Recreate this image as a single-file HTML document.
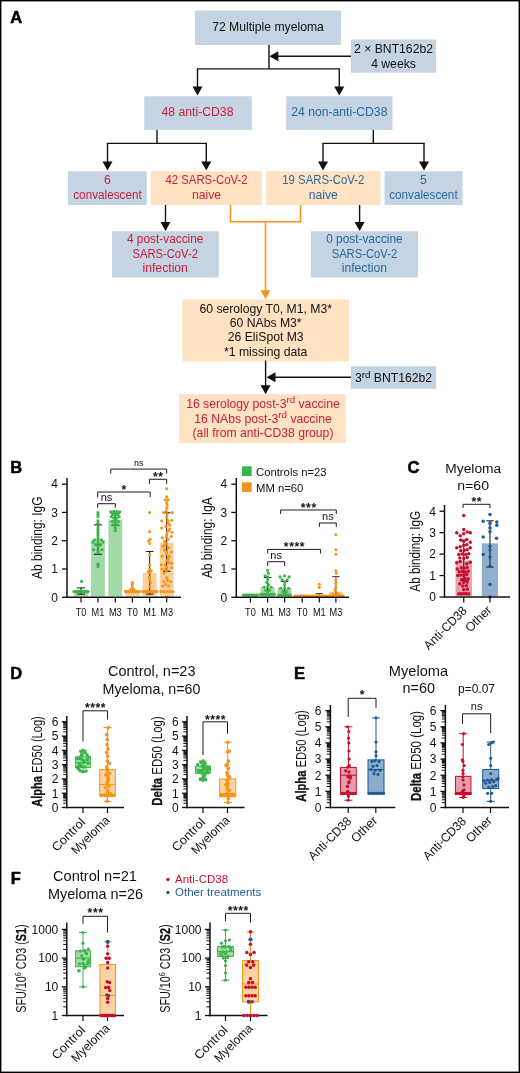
<!DOCTYPE html>
<html lang="en"><head><meta charset="utf-8"><title>Figure</title>
<style>
html,body{margin:0;padding:0;background:#fff;}
svg{display:block;font-family:"Liberation Sans",sans-serif;will-change:transform;}
</style></head><body>
<svg width="520" height="1073" viewBox="0 0 520 1073">
<rect x="0" y="0" width="520" height="1073" fill="#fff"/>
<rect x="195.00" y="10.50" width="146.00" height="34.50" fill="#c5d4e3" />
<text transform="translate(268.00,31.30)" font-size="12.2" fill="#111" text-anchor="middle" font-weight="normal" >72 Multiple myeloma</text>
<rect x="350.80" y="39.50" width="85.20" height="33.20" fill="#c5d4e3" />
<text transform="translate(393.50,52.70)" font-size="12.2" fill="#111" text-anchor="middle" font-weight="normal" >2 × BNT162b2</text>
<text transform="translate(393.50,67.70)" font-size="12.2" fill="#111" text-anchor="middle" font-weight="normal" >4 weeks</text>
<line x1="269.00" y1="45.00" x2="269.00" y2="68.90" stroke="#111" stroke-width="1.4" />
<line x1="196.80" y1="68.90" x2="339.95" y2="68.90" stroke="#111" stroke-width="1.4" />
<line x1="351.00" y1="56.30" x2="277.30" y2="56.30" stroke="#111" stroke-width="1.4" />
<polygon points="278.30,51.30 278.30,61.30 269.30,56.30" fill="#111"/>
<line x1="197.50" y1="68.90" x2="197.50" y2="87.60" stroke="#111" stroke-width="1.4" />
<polygon points="192.50,86.60 202.50,86.60 197.50,95.60" fill="#111"/>
<line x1="339.25" y1="68.90" x2="339.25" y2="87.60" stroke="#111" stroke-width="1.4" />
<polygon points="334.25,86.60 344.25,86.60 339.25,95.60" fill="#111"/>
<rect x="144.25" y="96.25" width="107.50" height="33.75" fill="#c5d4e3" />
<text transform="translate(197.50,116.40)" font-size="12.2" fill="#c8203f" text-anchor="middle" font-weight="normal" >48 anti-CD38</text>
<rect x="286.25" y="96.25" width="106.25" height="33.75" fill="#c5d4e3" />
<text transform="translate(339.30,116.40)" font-size="12.2" fill="#2b68a0" text-anchor="middle" font-weight="normal" >24 non-anti-CD38</text>
<line x1="157.00" y1="130.00" x2="157.00" y2="143.40" stroke="#111" stroke-width="1.4" />
<line x1="106.80" y1="143.40" x2="206.95" y2="143.40" stroke="#111" stroke-width="1.4" />
<line x1="107.50" y1="143.40" x2="107.50" y2="162.60" stroke="#111" stroke-width="1.4" />
<polygon points="102.50,161.60 112.50,161.60 107.50,170.60" fill="#111"/>
<line x1="206.25" y1="143.40" x2="206.25" y2="162.60" stroke="#111" stroke-width="1.4" />
<polygon points="201.25,161.60 211.25,161.60 206.25,170.60" fill="#111"/>
<rect x="68.00" y="171.25" width="78.80" height="33.75" fill="#c5d4e3" />
<text transform="translate(107.50,184.30)" font-size="12.2" fill="#c8203f" text-anchor="middle" font-weight="normal" >6</text>
<text transform="translate(107.50,198.80)" font-size="12.2" fill="#c8203f" text-anchor="middle" font-weight="normal"  textLength="68.5" lengthAdjust="spacingAndGlyphs">convalescent</text>
<rect x="150.80" y="171.25" width="110.95" height="33.75" fill="#fee2c1" />
<text transform="translate(206.50,184.30)" font-size="12.2" fill="#c8203f" text-anchor="middle" font-weight="normal"  textLength="82" lengthAdjust="spacingAndGlyphs">42 SARS-CoV-2</text>
<text transform="translate(206.50,198.80)" font-size="12.2" fill="#c8203f" text-anchor="middle" font-weight="normal" >naive</text>
<line x1="373.30" y1="130.00" x2="373.30" y2="143.40" stroke="#111" stroke-width="1.4" />
<line x1="322.30" y1="143.40" x2="424.70" y2="143.40" stroke="#111" stroke-width="1.4" />
<line x1="323.00" y1="143.40" x2="323.00" y2="162.60" stroke="#111" stroke-width="1.4" />
<polygon points="318.00,161.60 328.00,161.60 323.00,170.60" fill="#111"/>
<line x1="424.00" y1="143.40" x2="424.00" y2="162.60" stroke="#111" stroke-width="1.4" />
<polygon points="419.00,161.60 429.00,161.60 424.00,170.60" fill="#111"/>
<rect x="266.20" y="171.25" width="114.30" height="33.75" fill="#fee2c1" />
<text transform="translate(323.30,184.30)" font-size="12.2" fill="#2b68a0" text-anchor="middle" font-weight="normal"  textLength="82" lengthAdjust="spacingAndGlyphs">19 SARS-CoV-2</text>
<text transform="translate(323.30,198.80)" font-size="12.2" fill="#2b68a0" text-anchor="middle" font-weight="normal" >naive</text>
<rect x="384.50" y="171.25" width="78.00" height="33.75" fill="#c5d4e3" />
<text transform="translate(423.40,184.30)" font-size="12.2" fill="#2b68a0" text-anchor="middle" font-weight="normal" >5</text>
<text transform="translate(423.40,198.80)" font-size="12.2" fill="#2b68a0" text-anchor="middle" font-weight="normal"  textLength="68.5" lengthAdjust="spacingAndGlyphs">convalescent</text>
<line x1="165.50" y1="205.00" x2="165.50" y2="223.00" stroke="#111" stroke-width="1.4" />
<polygon points="160.50,222.00 170.50,222.00 165.50,231.00" fill="#111"/>
<rect x="112.00" y="231.25" width="106.80" height="46.25" fill="#c5d4e3" />
<text transform="translate(165.20,243.00)" font-size="12.2" fill="#c8203f" text-anchor="middle" font-weight="normal"  textLength="76.5" lengthAdjust="spacingAndGlyphs">4 post-vaccine</text>
<text transform="translate(165.20,257.50)" font-size="12.2" fill="#c8203f" text-anchor="middle" font-weight="normal"  textLength="65.5" lengthAdjust="spacingAndGlyphs">SARS-CoV-2</text>
<text transform="translate(165.20,271.80)" font-size="12.2" fill="#c8203f" text-anchor="middle" font-weight="normal" >infection</text>
<line x1="359.60" y1="205.00" x2="359.60" y2="223.00" stroke="#111" stroke-width="1.4" />
<polygon points="354.60,222.00 364.60,222.00 359.60,231.00" fill="#111"/>
<rect x="310.80" y="231.25" width="107.20" height="46.25" fill="#c5d4e3" />
<text transform="translate(364.40,243.00)" font-size="12.2" fill="#2b68a0" text-anchor="middle" font-weight="normal"  textLength="76.5" lengthAdjust="spacingAndGlyphs">0 post-vaccine</text>
<text transform="translate(364.40,257.50)" font-size="12.2" fill="#2b68a0" text-anchor="middle" font-weight="normal"  textLength="65.5" lengthAdjust="spacingAndGlyphs">SARS-CoV-2</text>
<text transform="translate(364.40,271.80)" font-size="12.2" fill="#2b68a0" text-anchor="middle" font-weight="normal" >infection</text>
<polyline points="230.50,205.00 230.50,221.70 300.50,221.70 300.50,205.00" fill="none" stroke="#f7941d" stroke-width="1.6" />
<line x1="265.50" y1="221.70" x2="265.50" y2="291.20" stroke="#f7941d" stroke-width="1.6" />
<polygon points="260.50,290.20 270.50,290.20 265.50,299.20" fill="#f7941d"/>
<rect x="182.50" y="299.50" width="166.50" height="61.80" fill="#fee2c1" />
<text transform="translate(265.70,312.60)" font-size="12.2" fill="#111" text-anchor="middle" font-weight="normal" >60 serology T0, M1, M3*</text>
<text transform="translate(265.70,326.90)" font-size="12.2" fill="#111" text-anchor="middle" font-weight="normal" >60 NAbs M3*</text>
<text transform="translate(265.70,341.20)" font-size="12.2" fill="#111" text-anchor="middle" font-weight="normal" >26 EliSpot M3</text>
<text transform="translate(265.70,355.50)" font-size="12.2" fill="#111" text-anchor="middle" font-weight="normal" >*1 missing data</text>
<line x1="265.60" y1="360.50" x2="265.60" y2="386.20" stroke="#111" stroke-width="1.4" />
<polygon points="260.60,385.20 270.60,385.20 265.60,394.20" fill="#111"/>
<rect x="350.80" y="366.20" width="85.40" height="22.60" fill="#c5d4e3" />
<text transform="translate(393.5,382.3)" font-size="12.2" fill="#111" text-anchor="middle">3<tspan font-size="9.8" dy="-4.6">rd</tspan><tspan dy="4.6"> BNT162b2</tspan></text>
<line x1="351.00" y1="377.20" x2="274.50" y2="377.20" stroke="#111" stroke-width="1.4" />
<polygon points="275.50,372.20 275.50,382.20 266.50,377.20" fill="#111"/>
<rect x="179.25" y="394.25" width="166.55" height="48.75" fill="#fee2c1" />
<text transform="translate(263,408)" font-size="12.2" fill="#c8203f" text-anchor="middle">16 serology post-3<tspan font-size="9.8" dy="-4.6">rd</tspan><tspan dy="4.6"> vaccine</tspan></text>
<text transform="translate(263,422.5)" font-size="12.2" fill="#c8203f" text-anchor="middle">16 NAbs post-3<tspan font-size="9.8" dy="-4.6">rd</tspan><tspan dy="4.6"> vaccine</tspan></text>
<text transform="translate(263.00,437.00)" font-size="12.2" fill="#c8203f" text-anchor="middle" font-weight="normal" >(all from anti-CD38 group)</text>
<text transform="translate(10.30,23.00)" font-size="16.5" fill="#000" text-anchor="start" font-weight="bold" stroke="#000" stroke-width="0.5">A</text>
<text transform="translate(10.30,473.00)" font-size="16.5" fill="#000" text-anchor="start" font-weight="bold" stroke="#000" stroke-width="0.5">B</text>
<text transform="translate(407.50,473.00)" font-size="16.5" fill="#000" text-anchor="start" font-weight="bold" stroke="#000" stroke-width="0.5">C</text>
<text transform="translate(10.30,679.00)" font-size="16.5" fill="#000" text-anchor="start" font-weight="bold" stroke="#000" stroke-width="0.5">D</text>
<text transform="translate(294.00,679.00)" font-size="16.5" fill="#000" text-anchor="start" font-weight="bold" stroke="#000" stroke-width="0.5">E</text>
<text transform="translate(10.80,884.30)" font-size="16.5" fill="#000" text-anchor="start" font-weight="bold" stroke="#000" stroke-width="0.5">F</text>
<line x1="67.00" y1="478.00" x2="67.00" y2="598.00" stroke="#111" stroke-width="1.5" />
<line x1="62.00" y1="597.25" x2="67.00" y2="597.25" stroke="#111" stroke-width="1.3" />
<text transform="translate(58.00,601.55)" font-size="12" fill="#111" text-anchor="end" font-weight="normal" >0</text>
<line x1="62.00" y1="568.98" x2="67.00" y2="568.98" stroke="#111" stroke-width="1.3" />
<text transform="translate(58.00,573.28)" font-size="12" fill="#111" text-anchor="end" font-weight="normal" >1</text>
<line x1="62.00" y1="540.71" x2="67.00" y2="540.71" stroke="#111" stroke-width="1.3" />
<text transform="translate(58.00,545.01)" font-size="12" fill="#111" text-anchor="end" font-weight="normal" >2</text>
<line x1="62.00" y1="512.44" x2="67.00" y2="512.44" stroke="#111" stroke-width="1.3" />
<text transform="translate(58.00,516.74)" font-size="12" fill="#111" text-anchor="end" font-weight="normal" >3</text>
<line x1="62.00" y1="484.17" x2="67.00" y2="484.17" stroke="#111" stroke-width="1.3" />
<text transform="translate(58.00,488.47)" font-size="12" fill="#111" text-anchor="end" font-weight="normal" >4</text>
<text transform="translate(42.00,537.70) rotate(-90)" font-size="14" fill="#111" text-anchor="middle" textLength="82.5" lengthAdjust="spacingAndGlyphs">Ab binding: IgG</text>
<rect x="74.10" y="591.60" width="13.80" height="4.95" fill="#a1d9a7" />
<rect x="91.10" y="539.86" width="13.80" height="56.69" fill="#a1d9a7" />
<rect x="108.40" y="519.51" width="13.80" height="77.04" fill="#a1d9a7" />
<rect x="125.50" y="591.60" width="13.80" height="4.95" fill="#fbcf9b" />
<rect x="142.80" y="572.94" width="13.80" height="23.61" fill="#fbcf9b" />
<rect x="159.80" y="542.69" width="13.80" height="53.86" fill="#fbcf9b" />
<line x1="81.00" y1="597.25" x2="81.00" y2="602.50" stroke="#111" stroke-width="1.2" />
<text transform="translate(81.00,616.00) scale(0.8,1)" font-size="11.5" fill="#111" text-anchor="middle" font-weight="normal" >T0</text>
<line x1="98.00" y1="597.25" x2="98.00" y2="602.50" stroke="#111" stroke-width="1.2" />
<text transform="translate(98.00,616.00) scale(0.8,1)" font-size="11.5" fill="#111" text-anchor="middle" font-weight="normal" >M1</text>
<line x1="115.30" y1="597.25" x2="115.30" y2="602.50" stroke="#111" stroke-width="1.2" />
<text transform="translate(115.30,616.00) scale(0.8,1)" font-size="11.5" fill="#111" text-anchor="middle" font-weight="normal" >M3</text>
<line x1="132.40" y1="597.25" x2="132.40" y2="602.50" stroke="#111" stroke-width="1.2" />
<text transform="translate(132.40,616.00) scale(0.8,1)" font-size="11.5" fill="#111" text-anchor="middle" font-weight="normal" >T0</text>
<line x1="149.70" y1="597.25" x2="149.70" y2="602.50" stroke="#111" stroke-width="1.2" />
<text transform="translate(149.70,616.00) scale(0.8,1)" font-size="11.5" fill="#111" text-anchor="middle" font-weight="normal" >M1</text>
<line x1="166.70" y1="597.25" x2="166.70" y2="602.50" stroke="#111" stroke-width="1.2" />
<text transform="translate(166.70,616.00) scale(0.8,1)" font-size="11.5" fill="#111" text-anchor="middle" font-weight="normal" >M3</text>
<line x1="81.00" y1="594.14" x2="81.00" y2="587.92" stroke="#111" stroke-width="1.0" />
<line x1="77.00" y1="594.14" x2="85.00" y2="594.14" stroke="#111" stroke-width="1.0" />
<line x1="77.00" y1="587.92" x2="85.00" y2="587.92" stroke="#111" stroke-width="1.0" />
<line x1="98.00" y1="554.28" x2="98.00" y2="524.88" stroke="#111" stroke-width="1.0" />
<line x1="94.00" y1="554.28" x2="102.00" y2="554.28" stroke="#111" stroke-width="1.0" />
<line x1="94.00" y1="524.88" x2="102.00" y2="524.88" stroke="#111" stroke-width="1.0" />
<line x1="115.30" y1="525.16" x2="115.30" y2="513.57" stroke="#111" stroke-width="1.0" />
<line x1="111.30" y1="525.16" x2="119.30" y2="525.16" stroke="#111" stroke-width="1.0" />
<line x1="111.30" y1="513.57" x2="119.30" y2="513.57" stroke="#111" stroke-width="1.0" />
<line x1="149.70" y1="594.14" x2="149.70" y2="551.45" stroke="#111" stroke-width="1.0" />
<line x1="145.95" y1="594.14" x2="153.45" y2="594.14" stroke="#111" stroke-width="1.0" />
<line x1="145.95" y1="551.45" x2="153.45" y2="551.45" stroke="#111" stroke-width="1.0" />
<line x1="166.70" y1="571.24" x2="166.70" y2="512.72" stroke="#111" stroke-width="1.0" />
<line x1="162.95" y1="571.24" x2="170.45" y2="571.24" stroke="#111" stroke-width="1.0" />
<line x1="162.95" y1="512.72" x2="170.45" y2="512.72" stroke="#111" stroke-width="1.0" />
<line x1="128.40" y1="591.60" x2="136.40" y2="591.60" stroke="#222" stroke-width="0.9" />
<circle cx="74.00" cy="591.60" r="1.55" fill="#3bb54a"/>
<circle cx="75.08" cy="591.60" r="1.55" fill="#3bb54a"/>
<circle cx="76.15" cy="591.60" r="1.55" fill="#3bb54a"/>
<circle cx="77.23" cy="591.60" r="1.55" fill="#3bb54a"/>
<circle cx="78.31" cy="591.60" r="1.55" fill="#3bb54a"/>
<circle cx="79.38" cy="591.60" r="1.55" fill="#3bb54a"/>
<circle cx="80.46" cy="591.60" r="1.55" fill="#3bb54a"/>
<circle cx="81.54" cy="591.60" r="1.55" fill="#3bb54a"/>
<circle cx="82.62" cy="591.60" r="1.55" fill="#3bb54a"/>
<circle cx="83.69" cy="591.60" r="1.55" fill="#3bb54a"/>
<circle cx="84.77" cy="591.60" r="1.55" fill="#3bb54a"/>
<circle cx="85.85" cy="591.60" r="1.55" fill="#3bb54a"/>
<circle cx="86.92" cy="591.60" r="1.55" fill="#3bb54a"/>
<circle cx="88.00" cy="591.60" r="1.55" fill="#3bb54a"/>
<circle cx="81.50" cy="581.42" r="1.55" fill="#3bb54a"/>
<circle cx="98.00" cy="512.44" r="1.55" fill="#3bb54a"/>
<circle cx="98.00" cy="514.42" r="1.55" fill="#3bb54a"/>
<circle cx="98.00" cy="516.40" r="1.55" fill="#3bb54a"/>
<circle cx="98.00" cy="520.92" r="1.55" fill="#3bb54a"/>
<circle cx="98.00" cy="523.18" r="1.55" fill="#3bb54a"/>
<circle cx="98.00" cy="527.42" r="1.55" fill="#3bb54a"/>
<circle cx="98.00" cy="529.40" r="1.55" fill="#3bb54a"/>
<circle cx="98.00" cy="531.38" r="1.55" fill="#3bb54a"/>
<circle cx="98.00" cy="533.36" r="1.55" fill="#3bb54a"/>
<circle cx="98.00" cy="535.62" r="1.55" fill="#3bb54a"/>
<circle cx="98.00" cy="537.88" r="1.55" fill="#3bb54a"/>
<circle cx="98.00" cy="539.86" r="1.55" fill="#3bb54a"/>
<circle cx="94.50" cy="539.86" r="1.55" fill="#3bb54a"/>
<circle cx="101.50" cy="539.86" r="1.55" fill="#3bb54a"/>
<circle cx="98.00" cy="542.69" r="1.55" fill="#3bb54a"/>
<circle cx="93.00" cy="542.12" r="1.55" fill="#3bb54a"/>
<circle cx="103.00" cy="542.12" r="1.55" fill="#3bb54a"/>
<circle cx="95.50" cy="544.67" r="1.55" fill="#3bb54a"/>
<circle cx="100.50" cy="544.67" r="1.55" fill="#3bb54a"/>
<circle cx="98.00" cy="546.36" r="1.55" fill="#3bb54a"/>
<circle cx="93.50" cy="549.76" r="1.55" fill="#3bb54a"/>
<circle cx="98.00" cy="550.32" r="1.55" fill="#3bb54a"/>
<circle cx="102.00" cy="549.76" r="1.55" fill="#3bb54a"/>
<circle cx="98.00" cy="552.58" r="1.55" fill="#3bb54a"/>
<circle cx="98.00" cy="564.17" r="1.55" fill="#3bb54a"/>
<circle cx="98.00" cy="566.44" r="1.55" fill="#3bb54a"/>
<circle cx="115.30" cy="530.82" r="1.55" fill="#3bb54a"/>
<circle cx="115.30" cy="527.99" r="1.55" fill="#3bb54a"/>
<circle cx="113.80" cy="525.16" r="1.55" fill="#3bb54a"/>
<circle cx="116.80" cy="525.16" r="1.55" fill="#3bb54a"/>
<circle cx="115.30" cy="523.18" r="1.55" fill="#3bb54a"/>
<circle cx="112.30" cy="521.49" r="1.55" fill="#3bb54a"/>
<circle cx="118.30" cy="521.49" r="1.55" fill="#3bb54a"/>
<circle cx="115.30" cy="520.36" r="1.55" fill="#3bb54a"/>
<circle cx="113.80" cy="518.09" r="1.55" fill="#3bb54a"/>
<circle cx="116.80" cy="518.09" r="1.55" fill="#3bb54a"/>
<circle cx="111.30" cy="516.68" r="1.55" fill="#3bb54a"/>
<circle cx="119.30" cy="516.68" r="1.55" fill="#3bb54a"/>
<circle cx="115.30" cy="515.83" r="1.55" fill="#3bb54a"/>
<circle cx="112.80" cy="514.42" r="1.55" fill="#3bb54a"/>
<circle cx="117.80" cy="514.42" r="1.55" fill="#3bb54a"/>
<circle cx="115.30" cy="513.01" r="1.55" fill="#3bb54a"/>
<circle cx="110.80" cy="511.87" r="1.55" fill="#3bb54a"/>
<circle cx="113.80" cy="511.31" r="1.55" fill="#3bb54a"/>
<circle cx="116.80" cy="511.31" r="1.55" fill="#3bb54a"/>
<circle cx="119.80" cy="511.87" r="1.55" fill="#3bb54a"/>
<circle cx="112.30" cy="513.29" r="1.55" fill="#3bb54a"/>
<circle cx="118.30" cy="513.29" r="1.55" fill="#3bb54a"/>
<circle cx="125.40" cy="591.60" r="1.55" fill="#f7941d"/>
<circle cx="126.40" cy="591.60" r="1.55" fill="#f7941d"/>
<circle cx="127.40" cy="591.60" r="1.55" fill="#f7941d"/>
<circle cx="128.40" cy="591.60" r="1.55" fill="#f7941d"/>
<circle cx="129.40" cy="591.60" r="1.55" fill="#f7941d"/>
<circle cx="130.40" cy="591.60" r="1.55" fill="#f7941d"/>
<circle cx="131.40" cy="591.60" r="1.55" fill="#f7941d"/>
<circle cx="132.40" cy="591.60" r="1.55" fill="#f7941d"/>
<circle cx="133.40" cy="591.60" r="1.55" fill="#f7941d"/>
<circle cx="134.40" cy="591.60" r="1.55" fill="#f7941d"/>
<circle cx="135.40" cy="591.60" r="1.55" fill="#f7941d"/>
<circle cx="136.40" cy="591.60" r="1.55" fill="#f7941d"/>
<circle cx="137.40" cy="591.60" r="1.55" fill="#f7941d"/>
<circle cx="138.40" cy="591.60" r="1.55" fill="#f7941d"/>
<circle cx="139.40" cy="591.60" r="1.55" fill="#f7941d"/>
<circle cx="132.40" cy="588.77" r="1.55" fill="#f7941d"/>
<circle cx="130.90" cy="589.33" r="1.55" fill="#f7941d"/>
<circle cx="133.90" cy="589.33" r="1.55" fill="#f7941d"/>
<circle cx="132.40" cy="586.51" r="1.55" fill="#f7941d"/>
<circle cx="132.40" cy="584.53" r="1.55" fill="#f7941d"/>
<circle cx="132.40" cy="582.55" r="1.55" fill="#f7941d"/>
<circle cx="142.70" cy="591.60" r="1.55" fill="#f7941d"/>
<circle cx="143.70" cy="591.60" r="1.55" fill="#f7941d"/>
<circle cx="144.70" cy="591.60" r="1.55" fill="#f7941d"/>
<circle cx="145.70" cy="591.60" r="1.55" fill="#f7941d"/>
<circle cx="146.70" cy="591.60" r="1.55" fill="#f7941d"/>
<circle cx="147.70" cy="591.60" r="1.55" fill="#f7941d"/>
<circle cx="148.70" cy="591.60" r="1.55" fill="#f7941d"/>
<circle cx="149.70" cy="591.60" r="1.55" fill="#f7941d"/>
<circle cx="150.70" cy="591.60" r="1.55" fill="#f7941d"/>
<circle cx="151.70" cy="591.60" r="1.55" fill="#f7941d"/>
<circle cx="152.70" cy="591.60" r="1.55" fill="#f7941d"/>
<circle cx="153.70" cy="591.60" r="1.55" fill="#f7941d"/>
<circle cx="154.70" cy="591.60" r="1.55" fill="#f7941d"/>
<circle cx="155.70" cy="591.60" r="1.55" fill="#f7941d"/>
<circle cx="156.70" cy="591.60" r="1.55" fill="#f7941d"/>
<circle cx="149.70" cy="586.51" r="1.55" fill="#f7941d"/>
<circle cx="150.70" cy="582.55" r="1.55" fill="#f7941d"/>
<circle cx="149.70" cy="579.72" r="1.55" fill="#f7941d"/>
<circle cx="149.20" cy="577.46" r="1.55" fill="#f7941d"/>
<circle cx="149.70" cy="573.22" r="1.55" fill="#f7941d"/>
<circle cx="148.20" cy="571.81" r="1.55" fill="#f7941d"/>
<circle cx="151.20" cy="570.96" r="1.55" fill="#f7941d"/>
<circle cx="149.70" cy="568.98" r="1.55" fill="#f7941d"/>
<circle cx="149.70" cy="565.02" r="1.55" fill="#f7941d"/>
<circle cx="149.70" cy="554.85" r="1.55" fill="#f7941d"/>
<circle cx="149.70" cy="543.54" r="1.55" fill="#f7941d"/>
<circle cx="148.70" cy="540.71" r="1.55" fill="#f7941d"/>
<circle cx="150.20" cy="539.30" r="1.55" fill="#f7941d"/>
<circle cx="149.70" cy="531.66" r="1.55" fill="#f7941d"/>
<circle cx="149.70" cy="512.44" r="1.55" fill="#f7941d"/>
<circle cx="166.70" cy="596.97" r="1.55" fill="#f7941d"/>
<circle cx="160.70" cy="591.60" r="1.55" fill="#f7941d"/>
<circle cx="163.70" cy="591.60" r="1.55" fill="#f7941d"/>
<circle cx="166.70" cy="591.60" r="1.55" fill="#f7941d"/>
<circle cx="169.70" cy="591.60" r="1.55" fill="#f7941d"/>
<circle cx="172.70" cy="591.60" r="1.55" fill="#f7941d"/>
<circle cx="162.70" cy="585.94" r="1.55" fill="#f7941d"/>
<circle cx="165.70" cy="584.53" r="1.55" fill="#f7941d"/>
<circle cx="168.70" cy="585.94" r="1.55" fill="#f7941d"/>
<circle cx="163.70" cy="581.70" r="1.55" fill="#f7941d"/>
<circle cx="167.70" cy="580.29" r="1.55" fill="#f7941d"/>
<circle cx="170.70" cy="581.70" r="1.55" fill="#f7941d"/>
<circle cx="166.70" cy="577.46" r="1.55" fill="#f7941d"/>
<circle cx="163.95" cy="573.22" r="1.55" fill="#f7941d"/>
<circle cx="166.28" cy="571.10" r="1.55" fill="#f7941d"/>
<circle cx="165.08" cy="568.98" r="1.55" fill="#f7941d"/>
<circle cx="166.35" cy="566.86" r="1.55" fill="#f7941d"/>
<circle cx="165.14" cy="564.74" r="1.55" fill="#f7941d"/>
<circle cx="169.01" cy="562.62" r="1.55" fill="#f7941d"/>
<circle cx="167.09" cy="560.50" r="1.55" fill="#f7941d"/>
<circle cx="168.26" cy="558.38" r="1.55" fill="#f7941d"/>
<circle cx="169.43" cy="556.26" r="1.55" fill="#f7941d"/>
<circle cx="166.67" cy="554.14" r="1.55" fill="#f7941d"/>
<circle cx="166.50" cy="552.02" r="1.55" fill="#f7941d"/>
<circle cx="164.32" cy="549.90" r="1.55" fill="#f7941d"/>
<circle cx="168.52" cy="547.78" r="1.55" fill="#f7941d"/>
<circle cx="163.94" cy="545.66" r="1.55" fill="#f7941d"/>
<circle cx="165.83" cy="543.54" r="1.55" fill="#f7941d"/>
<circle cx="164.57" cy="541.42" r="1.55" fill="#f7941d"/>
<circle cx="168.16" cy="539.30" r="1.55" fill="#f7941d"/>
<circle cx="166.43" cy="537.18" r="1.55" fill="#f7941d"/>
<circle cx="166.73" cy="535.06" r="1.55" fill="#f7941d"/>
<circle cx="166.88" cy="532.94" r="1.55" fill="#f7941d"/>
<circle cx="168.89" cy="530.82" r="1.55" fill="#f7941d"/>
<circle cx="169.77" cy="528.70" r="1.55" fill="#f7941d"/>
<circle cx="165.87" cy="526.58" r="1.55" fill="#f7941d"/>
<circle cx="169.13" cy="524.45" r="1.55" fill="#f7941d"/>
<circle cx="168.04" cy="522.33" r="1.55" fill="#f7941d"/>
<circle cx="167.96" cy="520.21" r="1.55" fill="#f7941d"/>
<circle cx="161.70" cy="568.98" r="1.55" fill="#f7941d"/>
<circle cx="171.70" cy="567.57" r="1.55" fill="#f7941d"/>
<circle cx="161.20" cy="564.74" r="1.55" fill="#f7941d"/>
<circle cx="171.70" cy="563.33" r="1.55" fill="#f7941d"/>
<circle cx="162.20" cy="556.26" r="1.55" fill="#f7941d"/>
<circle cx="171.30" cy="552.02" r="1.55" fill="#f7941d"/>
<circle cx="162.20" cy="537.88" r="1.55" fill="#f7941d"/>
<circle cx="171.20" cy="536.47" r="1.55" fill="#f7941d"/>
<circle cx="172.20" cy="532.23" r="1.55" fill="#f7941d"/>
<circle cx="161.70" cy="527.99" r="1.55" fill="#f7941d"/>
<circle cx="161.70" cy="520.92" r="1.55" fill="#f7941d"/>
<circle cx="171.70" cy="520.36" r="1.55" fill="#f7941d"/>
<circle cx="172.20" cy="512.44" r="1.55" fill="#f7941d"/>
<circle cx="163.70" cy="512.44" r="1.55" fill="#f7941d"/>
<circle cx="169.70" cy="525.16" r="1.55" fill="#f7941d"/>
<circle cx="163.20" cy="546.36" r="1.55" fill="#f7941d"/>
<circle cx="166.70" cy="516.68" r="1.55" fill="#f7941d"/>
<circle cx="167.20" cy="513.85" r="1.55" fill="#f7941d"/>
<circle cx="166.20" cy="511.03" r="1.55" fill="#f7941d"/>
<circle cx="166.70" cy="508.20" r="1.55" fill="#f7941d"/>
<circle cx="167.20" cy="505.37" r="1.55" fill="#f7941d"/>
<circle cx="166.70" cy="502.55" r="1.55" fill="#f7941d"/>
<circle cx="165.20" cy="499.72" r="1.55" fill="#f7941d"/>
<circle cx="168.20" cy="499.72" r="1.55" fill="#f7941d"/>
<circle cx="166.70" cy="496.89" r="1.55" fill="#f7941d"/>
<circle cx="166.70" cy="488.69" r="1.55" fill="#f7941d"/>
<polyline points="97.70,507.70 97.70,503.70 115.30,503.70 115.30,507.70" fill="none" stroke="#111" stroke-width="0.95" />
<text transform="translate(106.50,500.80)" font-size="11" fill="#111" text-anchor="middle" font-weight="normal" >ns</text>
<polyline points="97.70,497.30 97.70,492.00 150.20,492.00 150.20,497.00" fill="none" stroke="#111" stroke-width="0.95" />
<text transform="translate(124.25,494.01)" font-size="12.2" fill="#111" text-anchor="middle" font-weight="bold" letter-spacing="0.55">*</text>
<polyline points="110.80,473.70 110.80,469.10 166.70,469.10 166.70,473.70" fill="none" stroke="#111" stroke-width="0.95" />
<text transform="translate(138.75,466.30)" font-size="9" fill="#111" text-anchor="middle" font-weight="normal" >ns</text>
<polyline points="149.40,483.90 149.40,479.30 166.70,479.30 166.70,483.90" fill="none" stroke="#111" stroke-width="0.95" />
<text transform="translate(158.35,481.31)" font-size="12.2" fill="#111" text-anchor="middle" font-weight="bold" letter-spacing="0.55">**</text>
<line x1="236.30" y1="478.00" x2="236.30" y2="598.00" stroke="#111" stroke-width="1.5" />
<line x1="231.30" y1="597.25" x2="236.30" y2="597.25" stroke="#111" stroke-width="1.3" />
<text transform="translate(227.30,601.55)" font-size="12" fill="#111" text-anchor="end" font-weight="normal" >0</text>
<line x1="231.30" y1="568.98" x2="236.30" y2="568.98" stroke="#111" stroke-width="1.3" />
<text transform="translate(227.30,573.28)" font-size="12" fill="#111" text-anchor="end" font-weight="normal" >1</text>
<line x1="231.30" y1="540.71" x2="236.30" y2="540.71" stroke="#111" stroke-width="1.3" />
<text transform="translate(227.30,545.01)" font-size="12" fill="#111" text-anchor="end" font-weight="normal" >2</text>
<line x1="231.30" y1="512.44" x2="236.30" y2="512.44" stroke="#111" stroke-width="1.3" />
<text transform="translate(227.30,516.74)" font-size="12" fill="#111" text-anchor="end" font-weight="normal" >3</text>
<line x1="231.30" y1="484.17" x2="236.30" y2="484.17" stroke="#111" stroke-width="1.3" />
<text transform="translate(227.30,488.47)" font-size="12" fill="#111" text-anchor="end" font-weight="normal" >4</text>
<text transform="translate(211.50,537.70) rotate(-90)" font-size="14" fill="#111" text-anchor="middle" textLength="80.8" lengthAdjust="spacingAndGlyphs">Ab binding: IgA</text>
<rect x="243.50" y="594.42" width="13.80" height="2.13" fill="#a1d9a7" />
<rect x="260.70" y="587.07" width="13.80" height="9.48" fill="#a1d9a7" />
<rect x="277.70" y="587.92" width="13.80" height="8.63" fill="#a1d9a7" />
<rect x="312.40" y="596.12" width="13.80" height="0.43" fill="#fbcf9b" />
<rect x="329.00" y="591.60" width="13.80" height="4.95" fill="#fbcf9b" />
<line x1="250.40" y1="597.25" x2="250.40" y2="602.50" stroke="#111" stroke-width="1.2" />
<text transform="translate(250.40,616.00) scale(0.8,1)" font-size="11.5" fill="#111" text-anchor="middle" font-weight="normal" >T0</text>
<line x1="267.60" y1="597.25" x2="267.60" y2="602.50" stroke="#111" stroke-width="1.2" />
<text transform="translate(267.60,616.00) scale(0.8,1)" font-size="11.5" fill="#111" text-anchor="middle" font-weight="normal" >M1</text>
<line x1="284.60" y1="597.25" x2="284.60" y2="602.50" stroke="#111" stroke-width="1.2" />
<text transform="translate(284.60,616.00) scale(0.8,1)" font-size="11.5" fill="#111" text-anchor="middle" font-weight="normal" >M3</text>
<line x1="302.20" y1="597.25" x2="302.20" y2="602.50" stroke="#111" stroke-width="1.2" />
<text transform="translate(302.20,616.00) scale(0.8,1)" font-size="11.5" fill="#111" text-anchor="middle" font-weight="normal" >T0</text>
<line x1="319.30" y1="597.25" x2="319.30" y2="602.50" stroke="#111" stroke-width="1.2" />
<text transform="translate(319.30,616.00) scale(0.8,1)" font-size="11.5" fill="#111" text-anchor="middle" font-weight="normal" >M1</text>
<line x1="335.90" y1="597.25" x2="335.90" y2="602.50" stroke="#111" stroke-width="1.2" />
<text transform="translate(335.90,616.00) scale(0.8,1)" font-size="11.5" fill="#111" text-anchor="middle" font-weight="normal" >M3</text>
<line x1="267.60" y1="594.42" x2="267.60" y2="577.46" stroke="#111" stroke-width="1.0" />
<line x1="263.85" y1="594.42" x2="271.35" y2="594.42" stroke="#111" stroke-width="1.0" />
<line x1="263.85" y1="577.46" x2="271.35" y2="577.46" stroke="#111" stroke-width="1.0" />
<line x1="284.60" y1="594.42" x2="284.60" y2="581.42" stroke="#111" stroke-width="1.0" />
<line x1="280.85" y1="594.42" x2="288.35" y2="594.42" stroke="#111" stroke-width="1.0" />
<line x1="280.85" y1="581.42" x2="288.35" y2="581.42" stroke="#111" stroke-width="1.0" />
<line x1="319.30" y1="597.25" x2="319.30" y2="593.57" stroke="#222" stroke-width="0.9" />
<line x1="315.60" y1="593.57" x2="323.00" y2="593.57" stroke="#222" stroke-width="0.9" />
<line x1="335.90" y1="597.25" x2="335.90" y2="576.61" stroke="#222" stroke-width="0.9" />
<line x1="332.20" y1="576.61" x2="339.60" y2="576.61" stroke="#222" stroke-width="0.9" />
<circle cx="243.40" cy="594.99" r="1.55" fill="#3bb54a"/>
<circle cx="244.67" cy="594.99" r="1.55" fill="#3bb54a"/>
<circle cx="245.95" cy="594.99" r="1.55" fill="#3bb54a"/>
<circle cx="247.22" cy="594.99" r="1.55" fill="#3bb54a"/>
<circle cx="248.49" cy="594.99" r="1.55" fill="#3bb54a"/>
<circle cx="249.76" cy="594.99" r="1.55" fill="#3bb54a"/>
<circle cx="251.04" cy="594.99" r="1.55" fill="#3bb54a"/>
<circle cx="252.31" cy="594.99" r="1.55" fill="#3bb54a"/>
<circle cx="253.58" cy="594.99" r="1.55" fill="#3bb54a"/>
<circle cx="254.85" cy="594.99" r="1.55" fill="#3bb54a"/>
<circle cx="256.13" cy="594.99" r="1.55" fill="#3bb54a"/>
<circle cx="257.40" cy="594.99" r="1.55" fill="#3bb54a"/>
<circle cx="260.60" cy="594.42" r="1.55" fill="#3bb54a"/>
<circle cx="262.35" cy="594.42" r="1.55" fill="#3bb54a"/>
<circle cx="264.10" cy="594.42" r="1.55" fill="#3bb54a"/>
<circle cx="265.85" cy="594.42" r="1.55" fill="#3bb54a"/>
<circle cx="267.60" cy="594.42" r="1.55" fill="#3bb54a"/>
<circle cx="269.35" cy="594.42" r="1.55" fill="#3bb54a"/>
<circle cx="271.10" cy="594.42" r="1.55" fill="#3bb54a"/>
<circle cx="272.85" cy="594.42" r="1.55" fill="#3bb54a"/>
<circle cx="274.60" cy="594.42" r="1.55" fill="#3bb54a"/>
<circle cx="267.60" cy="570.39" r="1.55" fill="#3bb54a"/>
<circle cx="268.40" cy="573.22" r="1.55" fill="#3bb54a"/>
<circle cx="265.10" cy="575.76" r="1.55" fill="#3bb54a"/>
<circle cx="267.60" cy="576.90" r="1.55" fill="#3bb54a"/>
<circle cx="267.60" cy="579.72" r="1.55" fill="#3bb54a"/>
<circle cx="266.80" cy="582.55" r="1.55" fill="#3bb54a"/>
<circle cx="268.60" cy="584.53" r="1.55" fill="#3bb54a"/>
<circle cx="264.10" cy="587.07" r="1.55" fill="#3bb54a"/>
<circle cx="267.60" cy="587.07" r="1.55" fill="#3bb54a"/>
<circle cx="271.10" cy="587.07" r="1.55" fill="#3bb54a"/>
<circle cx="265.60" cy="590.18" r="1.55" fill="#3bb54a"/>
<circle cx="269.60" cy="590.18" r="1.55" fill="#3bb54a"/>
<circle cx="267.60" cy="591.60" r="1.55" fill="#3bb54a"/>
<circle cx="278.60" cy="594.99" r="1.55" fill="#3bb54a"/>
<circle cx="280.60" cy="594.99" r="1.55" fill="#3bb54a"/>
<circle cx="282.60" cy="594.99" r="1.55" fill="#3bb54a"/>
<circle cx="284.60" cy="594.99" r="1.55" fill="#3bb54a"/>
<circle cx="286.60" cy="594.99" r="1.55" fill="#3bb54a"/>
<circle cx="288.60" cy="594.99" r="1.55" fill="#3bb54a"/>
<circle cx="290.60" cy="594.99" r="1.55" fill="#3bb54a"/>
<circle cx="280.10" cy="576.90" r="1.55" fill="#3bb54a"/>
<circle cx="284.60" cy="575.76" r="1.55" fill="#3bb54a"/>
<circle cx="289.10" cy="576.90" r="1.55" fill="#3bb54a"/>
<circle cx="282.10" cy="579.72" r="1.55" fill="#3bb54a"/>
<circle cx="287.10" cy="579.72" r="1.55" fill="#3bb54a"/>
<circle cx="284.60" cy="581.70" r="1.55" fill="#3bb54a"/>
<circle cx="284.60" cy="584.53" r="1.55" fill="#3bb54a"/>
<circle cx="280.60" cy="588.20" r="1.55" fill="#3bb54a"/>
<circle cx="284.60" cy="587.92" r="1.55" fill="#3bb54a"/>
<circle cx="288.60" cy="588.20" r="1.55" fill="#3bb54a"/>
<circle cx="282.60" cy="591.60" r="1.55" fill="#3bb54a"/>
<circle cx="286.60" cy="591.60" r="1.55" fill="#3bb54a"/>
<circle cx="284.60" cy="592.44" r="1.55" fill="#3bb54a"/>
<circle cx="294.90" cy="595.98" r="1.55" fill="#f7941d"/>
<circle cx="296.12" cy="595.98" r="1.55" fill="#f7941d"/>
<circle cx="297.33" cy="595.98" r="1.55" fill="#f7941d"/>
<circle cx="298.55" cy="595.98" r="1.55" fill="#f7941d"/>
<circle cx="299.77" cy="595.98" r="1.55" fill="#f7941d"/>
<circle cx="300.98" cy="595.98" r="1.55" fill="#f7941d"/>
<circle cx="302.20" cy="595.98" r="1.55" fill="#f7941d"/>
<circle cx="303.42" cy="595.98" r="1.55" fill="#f7941d"/>
<circle cx="304.63" cy="595.98" r="1.55" fill="#f7941d"/>
<circle cx="305.85" cy="595.98" r="1.55" fill="#f7941d"/>
<circle cx="307.07" cy="595.98" r="1.55" fill="#f7941d"/>
<circle cx="308.28" cy="595.98" r="1.55" fill="#f7941d"/>
<circle cx="309.50" cy="595.98" r="1.55" fill="#f7941d"/>
<circle cx="312.00" cy="595.98" r="1.55" fill="#f7941d"/>
<circle cx="313.22" cy="595.98" r="1.55" fill="#f7941d"/>
<circle cx="314.43" cy="595.98" r="1.55" fill="#f7941d"/>
<circle cx="315.65" cy="595.98" r="1.55" fill="#f7941d"/>
<circle cx="316.87" cy="595.98" r="1.55" fill="#f7941d"/>
<circle cx="318.08" cy="595.98" r="1.55" fill="#f7941d"/>
<circle cx="319.30" cy="595.98" r="1.55" fill="#f7941d"/>
<circle cx="320.52" cy="595.98" r="1.55" fill="#f7941d"/>
<circle cx="321.73" cy="595.98" r="1.55" fill="#f7941d"/>
<circle cx="322.95" cy="595.98" r="1.55" fill="#f7941d"/>
<circle cx="324.17" cy="595.98" r="1.55" fill="#f7941d"/>
<circle cx="325.38" cy="595.98" r="1.55" fill="#f7941d"/>
<circle cx="326.60" cy="595.98" r="1.55" fill="#f7941d"/>
<circle cx="319.30" cy="587.36" r="1.55" fill="#f7941d"/>
<circle cx="319.30" cy="584.25" r="1.55" fill="#f7941d"/>
<circle cx="328.60" cy="595.98" r="1.55" fill="#f7941d"/>
<circle cx="329.82" cy="595.98" r="1.55" fill="#f7941d"/>
<circle cx="331.03" cy="595.98" r="1.55" fill="#f7941d"/>
<circle cx="332.25" cy="595.98" r="1.55" fill="#f7941d"/>
<circle cx="333.47" cy="595.98" r="1.55" fill="#f7941d"/>
<circle cx="334.68" cy="595.98" r="1.55" fill="#f7941d"/>
<circle cx="335.90" cy="595.98" r="1.55" fill="#f7941d"/>
<circle cx="337.12" cy="595.98" r="1.55" fill="#f7941d"/>
<circle cx="338.33" cy="595.98" r="1.55" fill="#f7941d"/>
<circle cx="339.55" cy="595.98" r="1.55" fill="#f7941d"/>
<circle cx="340.77" cy="595.98" r="1.55" fill="#f7941d"/>
<circle cx="341.98" cy="595.98" r="1.55" fill="#f7941d"/>
<circle cx="343.20" cy="595.98" r="1.55" fill="#f7941d"/>
<circle cx="335.90" cy="534.77" r="1.55" fill="#f7941d"/>
<circle cx="335.90" cy="549.76" r="1.55" fill="#f7941d"/>
<circle cx="335.90" cy="554.28" r="1.55" fill="#f7941d"/>
<circle cx="335.90" cy="570.68" r="1.55" fill="#f7941d"/>
<circle cx="336.40" cy="573.22" r="1.55" fill="#f7941d"/>
<circle cx="335.90" cy="580.29" r="1.55" fill="#f7941d"/>
<circle cx="335.90" cy="583.40" r="1.55" fill="#f7941d"/>
<circle cx="335.90" cy="587.36" r="1.55" fill="#f7941d"/>
<circle cx="334.90" cy="589.90" r="1.55" fill="#f7941d"/>
<circle cx="336.90" cy="593.01" r="1.55" fill="#f7941d"/>
<circle cx="332.90" cy="593.86" r="1.55" fill="#f7941d"/>
<circle cx="338.90" cy="594.42" r="1.55" fill="#f7941d"/>
<polyline points="280.60,514.00 280.60,510.00 336.30,510.00 336.30,514.00" fill="none" stroke="#111" stroke-width="0.95" />
<text transform="translate(308.75,512.01)" font-size="12.2" fill="#111" text-anchor="middle" font-weight="bold" letter-spacing="0.55">***</text>
<polyline points="319.40,527.00 319.40,523.00 336.30,523.00 336.30,527.00" fill="none" stroke="#111" stroke-width="0.95" />
<text transform="translate(327.85,520.30)" font-size="11" fill="#111" text-anchor="middle" font-weight="normal" >ns</text>
<polyline points="267.70,553.50 267.70,549.40 320.60,549.40 320.60,553.50" fill="none" stroke="#111" stroke-width="0.95" />
<text transform="translate(294.45,551.11)" font-size="12.2" fill="#111" text-anchor="middle" font-weight="bold" letter-spacing="0.55">****</text>
<polyline points="267.70,566.00 267.70,561.70 284.60,561.70 284.60,566.00" fill="none" stroke="#111" stroke-width="0.95" />
<text transform="translate(276.15,559.00)" font-size="11" fill="#111" text-anchor="middle" font-weight="normal" >ns</text>
<line x1="66.25" y1="597.25" x2="181.00" y2="597.25" stroke="#111" stroke-width="1.5" />
<line x1="235.55" y1="597.25" x2="349.00" y2="597.25" stroke="#111" stroke-width="1.5" />
<rect x="242.00" y="466.30" width="9.70" height="9.70" fill="#3bb54a" />
<text transform="translate(256.00,475.50)" font-size="11.3" fill="#111" text-anchor="start" font-weight="normal" >Controls n=23</text>
<rect x="242.00" y="482.30" width="9.70" height="9.70" fill="#f7941d" />
<text transform="translate(256.00,491.50)" font-size="11.3" fill="#111" text-anchor="start" font-weight="normal" >MM n=60</text>
<text transform="translate(473.25,473.00)" font-size="13.7" fill="#111" text-anchor="middle" font-weight="normal"  textLength="55.8" lengthAdjust="spacingAndGlyphs">Myeloma</text>
<text transform="translate(473.10,490.00)" font-size="13.7" fill="#111" text-anchor="middle" font-weight="normal"  textLength="31.8" lengthAdjust="spacingAndGlyphs">n=60</text>
<line x1="444.50" y1="505.00" x2="444.50" y2="597.75" stroke="#111" stroke-width="1.5" />
<line x1="439.50" y1="597.00" x2="444.50" y2="597.00" stroke="#111" stroke-width="1.3" />
<text transform="translate(436.00,601.30)" font-size="12" fill="#111" text-anchor="end" font-weight="normal" >0</text>
<line x1="439.50" y1="575.55" x2="444.50" y2="575.55" stroke="#111" stroke-width="1.3" />
<text transform="translate(436.00,579.85)" font-size="12" fill="#111" text-anchor="end" font-weight="normal" >1</text>
<line x1="439.50" y1="554.10" x2="444.50" y2="554.10" stroke="#111" stroke-width="1.3" />
<text transform="translate(436.00,558.40)" font-size="12" fill="#111" text-anchor="end" font-weight="normal" >2</text>
<line x1="439.50" y1="532.65" x2="444.50" y2="532.65" stroke="#111" stroke-width="1.3" />
<text transform="translate(436.00,536.95)" font-size="12" fill="#111" text-anchor="end" font-weight="normal" >3</text>
<line x1="439.50" y1="511.20" x2="444.50" y2="511.20" stroke="#111" stroke-width="1.3" />
<text transform="translate(436.00,515.50)" font-size="12" fill="#111" text-anchor="end" font-weight="normal" >4</text>
<text transform="translate(419.60,551.30) rotate(-90)" font-size="14" fill="#111" text-anchor="middle" textLength="80.7" lengthAdjust="spacingAndGlyphs">Ab binding: IgG</text>
<rect x="455.50" y="560.53" width="16.50" height="35.76" fill="#e9a3ae" />
<rect x="481.80" y="543.38" width="16.20" height="52.92" fill="#8fb0cc" />
<line x1="463.75" y1="580.70" x2="463.75" y2="540.16" stroke="#222" stroke-width="1.1" />
<line x1="460.00" y1="580.70" x2="467.50" y2="580.70" stroke="#222" stroke-width="1.1" />
<line x1="460.00" y1="540.16" x2="467.50" y2="540.16" stroke="#222" stroke-width="1.1" />
<line x1="490.00" y1="566.97" x2="490.00" y2="520.85" stroke="#222" stroke-width="1.1" />
<line x1="486.25" y1="566.97" x2="493.75" y2="566.97" stroke="#222" stroke-width="1.1" />
<line x1="486.25" y1="520.85" x2="493.75" y2="520.85" stroke="#222" stroke-width="1.1" />
<circle cx="458.75" cy="593.78" r="1.75" fill="#c8102e"/>
<circle cx="461.25" cy="593.78" r="1.75" fill="#c8102e"/>
<circle cx="463.75" cy="593.78" r="1.75" fill="#c8102e"/>
<circle cx="466.25" cy="593.78" r="1.75" fill="#c8102e"/>
<circle cx="468.75" cy="593.78" r="1.75" fill="#c8102e"/>
<circle cx="463.75" cy="589.71" r="1.75" fill="#c8102e"/>
<circle cx="467.35" cy="589.28" r="1.75" fill="#c8102e"/>
<circle cx="462.75" cy="586.06" r="1.75" fill="#c8102e"/>
<circle cx="466.35" cy="585.63" r="1.75" fill="#c8102e"/>
<circle cx="459.75" cy="583.70" r="1.75" fill="#c8102e"/>
<circle cx="463.75" cy="582.41" r="1.75" fill="#c8102e"/>
<circle cx="467.25" cy="581.99" r="1.75" fill="#c8102e"/>
<circle cx="461.75" cy="579.41" r="1.75" fill="#c8102e"/>
<circle cx="465.25" cy="578.55" r="1.75" fill="#c8102e"/>
<circle cx="468.25" cy="578.98" r="1.75" fill="#c8102e"/>
<circle cx="457.75" cy="575.55" r="1.75" fill="#c8102e"/>
<circle cx="460.75" cy="574.91" r="1.75" fill="#c8102e"/>
<circle cx="463.75" cy="575.55" r="1.75" fill="#c8102e"/>
<circle cx="466.75" cy="574.48" r="1.75" fill="#c8102e"/>
<circle cx="459.25" cy="571.69" r="1.75" fill="#c8102e"/>
<circle cx="462.25" cy="571.26" r="1.75" fill="#c8102e"/>
<circle cx="465.25" cy="571.90" r="1.75" fill="#c8102e"/>
<circle cx="468.25" cy="571.26" r="1.75" fill="#c8102e"/>
<circle cx="457.25" cy="569.12" r="1.75" fill="#c8102e"/>
<circle cx="461.25" cy="567.83" r="1.75" fill="#c8102e"/>
<circle cx="464.25" cy="568.26" r="1.75" fill="#c8102e"/>
<circle cx="467.25" cy="567.40" r="1.75" fill="#c8102e"/>
<circle cx="456.75" cy="562.68" r="1.75" fill="#c8102e"/>
<circle cx="460.25" cy="561.39" r="1.75" fill="#c8102e"/>
<circle cx="466.75" cy="563.75" r="1.75" fill="#c8102e"/>
<circle cx="470.25" cy="562.25" r="1.75" fill="#c8102e"/>
<circle cx="459.75" cy="557.96" r="1.75" fill="#c8102e"/>
<circle cx="463.75" cy="558.39" r="1.75" fill="#c8102e"/>
<circle cx="467.25" cy="557.53" r="1.75" fill="#c8102e"/>
<circle cx="458.75" cy="554.53" r="1.75" fill="#c8102e"/>
<circle cx="462.25" cy="554.10" r="1.75" fill="#c8102e"/>
<circle cx="465.75" cy="554.53" r="1.75" fill="#c8102e"/>
<circle cx="468.75" cy="553.67" r="1.75" fill="#c8102e"/>
<circle cx="460.75" cy="550.67" r="1.75" fill="#c8102e"/>
<circle cx="464.25" cy="550.24" r="1.75" fill="#c8102e"/>
<circle cx="467.25" cy="549.81" r="1.75" fill="#c8102e"/>
<circle cx="456.75" cy="547.66" r="1.75" fill="#c8102e"/>
<circle cx="460.25" cy="546.81" r="1.75" fill="#c8102e"/>
<circle cx="463.75" cy="545.52" r="1.75" fill="#c8102e"/>
<circle cx="470.25" cy="547.66" r="1.75" fill="#c8102e"/>
<circle cx="466.75" cy="544.66" r="1.75" fill="#c8102e"/>
<circle cx="470.25" cy="542.30" r="1.75" fill="#c8102e"/>
<circle cx="463.75" cy="541.23" r="1.75" fill="#c8102e"/>
<circle cx="460.75" cy="539.94" r="1.75" fill="#c8102e"/>
<circle cx="466.75" cy="539.51" r="1.75" fill="#c8102e"/>
<circle cx="460.25" cy="535.87" r="1.75" fill="#c8102e"/>
<circle cx="463.75" cy="533.72" r="1.75" fill="#c8102e"/>
<circle cx="456.75" cy="532.65" r="1.75" fill="#c8102e"/>
<circle cx="467.25" cy="532.01" r="1.75" fill="#c8102e"/>
<circle cx="470.25" cy="532.65" r="1.75" fill="#c8102e"/>
<circle cx="463.75" cy="529.43" r="1.75" fill="#c8102e"/>
<circle cx="463.75" cy="515.49" r="1.75" fill="#c8102e"/>
<circle cx="490.00" cy="514.42" r="1.75" fill="#1f5a96"/>
<circle cx="483.20" cy="521.28" r="1.75" fill="#1f5a96"/>
<circle cx="490.00" cy="523.21" r="1.75" fill="#1f5a96"/>
<circle cx="496.80" cy="521.92" r="1.75" fill="#1f5a96"/>
<circle cx="496.80" cy="525.36" r="1.75" fill="#1f5a96"/>
<circle cx="490.00" cy="527.93" r="1.75" fill="#1f5a96"/>
<circle cx="490.00" cy="531.79" r="1.75" fill="#1f5a96"/>
<circle cx="483.20" cy="536.94" r="1.75" fill="#1f5a96"/>
<circle cx="496.50" cy="538.23" r="1.75" fill="#1f5a96"/>
<circle cx="490.00" cy="546.16" r="1.75" fill="#1f5a96"/>
<circle cx="490.00" cy="550.02" r="1.75" fill="#1f5a96"/>
<circle cx="483.20" cy="554.53" r="1.75" fill="#1f5a96"/>
<circle cx="490.00" cy="557.10" r="1.75" fill="#1f5a96"/>
<circle cx="490.00" cy="566.33" r="1.75" fill="#1f5a96"/>
<circle cx="490.00" cy="584.56" r="1.75" fill="#1f5a96"/>
<circle cx="490.00" cy="597.00" r="1.75" fill="#1f5a96"/>
<line x1="443.75" y1="597.00" x2="510.00" y2="597.00" stroke="#111" stroke-width="1.5" />
<polyline points="463.00,508.00 463.00,504.30 490.00,504.30 490.00,508.00" fill="none" stroke="#111" stroke-width="0.95" />
<text transform="translate(476.80,506.11)" font-size="12.2" fill="#111" text-anchor="middle" font-weight="bold" letter-spacing="0.55">**</text>
<line x1="463.75" y1="597.00" x2="463.75" y2="602.50" stroke="#111" stroke-width="1.2" />
<text transform="translate(467.75,611.50) rotate(-45)" font-size="12.5" fill="#111" text-anchor="end" font-weight="normal"  textLength="55" lengthAdjust="spacingAndGlyphs">Anti-CD38</text>
<line x1="490.00" y1="597.00" x2="490.00" y2="602.50" stroke="#111" stroke-width="1.2" />
<text transform="translate(492.30,610.70) rotate(-45)" font-size="12.5" fill="#111" text-anchor="end" font-weight="normal" >Other</text>
<text transform="translate(151.75,676.30)" font-size="14.2" fill="#111" text-anchor="middle" font-weight="normal"  textLength="87.5" lengthAdjust="spacingAndGlyphs">Control, n=23</text>
<text transform="translate(151.50,693.80)" font-size="14.2" fill="#111" text-anchor="middle" font-weight="normal"  textLength="98" lengthAdjust="spacingAndGlyphs">Myeloma, n=60</text>
<line x1="66.80" y1="716.00" x2="66.80" y2="808.25" stroke="#111" stroke-width="1.5" />
<line x1="66.05" y1="807.50" x2="124.00" y2="807.50" stroke="#111" stroke-width="1.5" />
<line x1="61.80" y1="807.50" x2="66.80" y2="807.50" stroke="#111" stroke-width="1.3" />
<line x1="63.20" y1="803.20" x2="66.80" y2="803.20" stroke="#111" stroke-width="1.0" />
<line x1="63.20" y1="800.69" x2="66.80" y2="800.69" stroke="#111" stroke-width="1.0" />
<line x1="63.20" y1="798.90" x2="66.80" y2="798.90" stroke="#111" stroke-width="1.0" />
<line x1="63.20" y1="797.52" x2="66.80" y2="797.52" stroke="#111" stroke-width="1.0" />
<line x1="63.20" y1="796.39" x2="66.80" y2="796.39" stroke="#111" stroke-width="1.0" />
<line x1="63.20" y1="795.43" x2="66.80" y2="795.43" stroke="#111" stroke-width="1.0" />
<line x1="63.20" y1="794.60" x2="66.80" y2="794.60" stroke="#111" stroke-width="1.0" />
<line x1="63.20" y1="793.87" x2="66.80" y2="793.87" stroke="#111" stroke-width="1.0" />
<line x1="61.80" y1="793.22" x2="66.80" y2="793.22" stroke="#111" stroke-width="1.3" />
<line x1="63.20" y1="788.92" x2="66.80" y2="788.92" stroke="#111" stroke-width="1.0" />
<line x1="63.20" y1="786.41" x2="66.80" y2="786.41" stroke="#111" stroke-width="1.0" />
<line x1="63.20" y1="784.62" x2="66.80" y2="784.62" stroke="#111" stroke-width="1.0" />
<line x1="63.20" y1="783.24" x2="66.80" y2="783.24" stroke="#111" stroke-width="1.0" />
<line x1="63.20" y1="782.11" x2="66.80" y2="782.11" stroke="#111" stroke-width="1.0" />
<line x1="63.20" y1="781.15" x2="66.80" y2="781.15" stroke="#111" stroke-width="1.0" />
<line x1="63.20" y1="780.32" x2="66.80" y2="780.32" stroke="#111" stroke-width="1.0" />
<line x1="63.20" y1="779.59" x2="66.80" y2="779.59" stroke="#111" stroke-width="1.0" />
<line x1="61.80" y1="778.94" x2="66.80" y2="778.94" stroke="#111" stroke-width="1.3" />
<line x1="63.20" y1="774.64" x2="66.80" y2="774.64" stroke="#111" stroke-width="1.0" />
<line x1="63.20" y1="772.13" x2="66.80" y2="772.13" stroke="#111" stroke-width="1.0" />
<line x1="63.20" y1="770.34" x2="66.80" y2="770.34" stroke="#111" stroke-width="1.0" />
<line x1="63.20" y1="768.96" x2="66.80" y2="768.96" stroke="#111" stroke-width="1.0" />
<line x1="63.20" y1="767.83" x2="66.80" y2="767.83" stroke="#111" stroke-width="1.0" />
<line x1="63.20" y1="766.87" x2="66.80" y2="766.87" stroke="#111" stroke-width="1.0" />
<line x1="63.20" y1="766.04" x2="66.80" y2="766.04" stroke="#111" stroke-width="1.0" />
<line x1="63.20" y1="765.31" x2="66.80" y2="765.31" stroke="#111" stroke-width="1.0" />
<line x1="61.80" y1="764.66" x2="66.80" y2="764.66" stroke="#111" stroke-width="1.3" />
<line x1="63.20" y1="760.36" x2="66.80" y2="760.36" stroke="#111" stroke-width="1.0" />
<line x1="63.20" y1="757.85" x2="66.80" y2="757.85" stroke="#111" stroke-width="1.0" />
<line x1="63.20" y1="756.06" x2="66.80" y2="756.06" stroke="#111" stroke-width="1.0" />
<line x1="63.20" y1="754.68" x2="66.80" y2="754.68" stroke="#111" stroke-width="1.0" />
<line x1="63.20" y1="753.55" x2="66.80" y2="753.55" stroke="#111" stroke-width="1.0" />
<line x1="63.20" y1="752.59" x2="66.80" y2="752.59" stroke="#111" stroke-width="1.0" />
<line x1="63.20" y1="751.76" x2="66.80" y2="751.76" stroke="#111" stroke-width="1.0" />
<line x1="63.20" y1="751.03" x2="66.80" y2="751.03" stroke="#111" stroke-width="1.0" />
<line x1="61.80" y1="750.38" x2="66.80" y2="750.38" stroke="#111" stroke-width="1.3" />
<line x1="63.20" y1="746.08" x2="66.80" y2="746.08" stroke="#111" stroke-width="1.0" />
<line x1="63.20" y1="743.57" x2="66.80" y2="743.57" stroke="#111" stroke-width="1.0" />
<line x1="63.20" y1="741.78" x2="66.80" y2="741.78" stroke="#111" stroke-width="1.0" />
<line x1="63.20" y1="740.40" x2="66.80" y2="740.40" stroke="#111" stroke-width="1.0" />
<line x1="63.20" y1="739.27" x2="66.80" y2="739.27" stroke="#111" stroke-width="1.0" />
<line x1="63.20" y1="738.31" x2="66.80" y2="738.31" stroke="#111" stroke-width="1.0" />
<line x1="63.20" y1="737.48" x2="66.80" y2="737.48" stroke="#111" stroke-width="1.0" />
<line x1="63.20" y1="736.75" x2="66.80" y2="736.75" stroke="#111" stroke-width="1.0" />
<line x1="61.80" y1="736.10" x2="66.80" y2="736.10" stroke="#111" stroke-width="1.3" />
<line x1="63.20" y1="731.80" x2="66.80" y2="731.80" stroke="#111" stroke-width="1.0" />
<line x1="63.20" y1="729.29" x2="66.80" y2="729.29" stroke="#111" stroke-width="1.0" />
<line x1="63.20" y1="727.50" x2="66.80" y2="727.50" stroke="#111" stroke-width="1.0" />
<line x1="63.20" y1="726.12" x2="66.80" y2="726.12" stroke="#111" stroke-width="1.0" />
<line x1="63.20" y1="724.99" x2="66.80" y2="724.99" stroke="#111" stroke-width="1.0" />
<line x1="63.20" y1="724.03" x2="66.80" y2="724.03" stroke="#111" stroke-width="1.0" />
<line x1="63.20" y1="723.20" x2="66.80" y2="723.20" stroke="#111" stroke-width="1.0" />
<line x1="63.20" y1="722.47" x2="66.80" y2="722.47" stroke="#111" stroke-width="1.0" />
<line x1="61.80" y1="721.82" x2="66.80" y2="721.82" stroke="#111" stroke-width="1.3" />
<line x1="83.00" y1="807.50" x2="83.00" y2="813.00" stroke="#111" stroke-width="1.2" />
<line x1="107.50" y1="807.50" x2="107.50" y2="813.00" stroke="#111" stroke-width="1.2" />
<text transform="translate(58.50,811.80)" font-size="12" fill="#111" text-anchor="end" font-weight="normal" >0</text>
<text transform="translate(58.50,797.52)" font-size="12" fill="#111" text-anchor="end" font-weight="normal" >1</text>
<text transform="translate(58.50,783.24)" font-size="12" fill="#111" text-anchor="end" font-weight="normal" >2</text>
<text transform="translate(58.50,768.96)" font-size="12" fill="#111" text-anchor="end" font-weight="normal" >3</text>
<text transform="translate(58.50,754.68)" font-size="12" fill="#111" text-anchor="end" font-weight="normal" >4</text>
<text transform="translate(58.50,740.40)" font-size="12" fill="#111" text-anchor="end" font-weight="normal" >5</text>
<text transform="translate(58.50,726.12)" font-size="12" fill="#111" text-anchor="end" font-weight="normal" >6</text>
<text transform="translate(42.20,761.50) rotate(-90)" font-size="14" fill="#111" text-anchor="middle" textLength="90.5" lengthAdjust="spacingAndGlyphs"><tspan font-weight="bold" stroke="#111" stroke-width="0.3">Alpha</tspan> ED50 (Log)</text>
<line x1="83.00" y1="771.80" x2="83.00" y2="750.38" stroke="#3bb54a" stroke-width="1.0" />
<line x1="79.00" y1="771.80" x2="87.00" y2="771.80" stroke="#3bb54a" stroke-width="1.0" />
<line x1="79.00" y1="750.38" x2="87.00" y2="750.38" stroke="#3bb54a" stroke-width="1.0" />
<rect x="75.60" y="756.81" width="14.80" height="10.71" fill="#a4dbaa" stroke="#3bb54a" stroke-width="1.0"/>
<line x1="75.60" y1="762.52" x2="90.40" y2="762.52" stroke="#3bb54a" stroke-width="1.0" />
<circle cx="77.34" cy="767.34" r="1.8" fill="#3bb54a"/>
<circle cx="81.76" cy="759.18" r="1.8" fill="#3bb54a"/>
<circle cx="78.81" cy="767.34" r="1.8" fill="#3bb54a"/>
<circle cx="79.89" cy="758.13" r="1.8" fill="#3bb54a"/>
<circle cx="78.91" cy="758.37" r="1.8" fill="#3bb54a"/>
<circle cx="84.88" cy="766.99" r="1.8" fill="#3bb54a"/>
<circle cx="83.41" cy="762.55" r="1.8" fill="#3bb54a"/>
<circle cx="81.99" cy="754.72" r="1.8" fill="#3bb54a"/>
<circle cx="78.28" cy="768.65" r="1.8" fill="#3bb54a"/>
<circle cx="88.10" cy="763.19" r="1.8" fill="#3bb54a"/>
<circle cx="79.50" cy="764.23" r="1.8" fill="#3bb54a"/>
<circle cx="81.43" cy="755.30" r="1.8" fill="#3bb54a"/>
<circle cx="79.64" cy="765.85" r="1.8" fill="#3bb54a"/>
<circle cx="83.98" cy="761.13" r="1.8" fill="#3bb54a"/>
<circle cx="88.26" cy="756.97" r="1.8" fill="#3bb54a"/>
<circle cx="81.32" cy="766.03" r="1.8" fill="#3bb54a"/>
<circle cx="86.90" cy="754.82" r="1.8" fill="#3bb54a"/>
<circle cx="77.55" cy="758.45" r="1.8" fill="#3bb54a"/>
<circle cx="87.27" cy="759.65" r="1.8" fill="#3bb54a"/>
<circle cx="83.00" cy="750.38" r="1.8" fill="#3bb54a"/>
<circle cx="81.00" cy="751.81" r="1.8" fill="#3bb54a"/>
<circle cx="85.00" cy="752.52" r="1.8" fill="#3bb54a"/>
<circle cx="83.00" cy="771.80" r="1.8" fill="#3bb54a"/>
<circle cx="86.00" cy="771.09" r="1.8" fill="#3bb54a"/>
<circle cx="80.00" cy="770.37" r="1.8" fill="#3bb54a"/>
<line x1="107.50" y1="801.50" x2="107.50" y2="727.53" stroke="#f7941d" stroke-width="1.0" />
<line x1="103.50" y1="801.50" x2="111.50" y2="801.50" stroke="#f7941d" stroke-width="1.0" />
<line x1="103.50" y1="727.53" x2="111.50" y2="727.53" stroke="#f7941d" stroke-width="1.0" />
<rect x="99.75" y="769.66" width="15.50" height="26.42" fill="#fcd3a2" stroke="#f7941d" stroke-width="1.0"/>
<line x1="99.75" y1="784.37" x2="115.25" y2="784.37" stroke="#f7941d" stroke-width="1.0" />
<circle cx="106.96" cy="801.07" r="1.85" fill="#f7941d"/>
<circle cx="107.80" cy="792.51" r="1.85" fill="#f7941d"/>
<circle cx="107.72" cy="790.36" r="1.85" fill="#f7941d"/>
<circle cx="107.47" cy="784.65" r="1.85" fill="#f7941d"/>
<circle cx="107.05" cy="782.51" r="1.85" fill="#f7941d"/>
<circle cx="107.97" cy="780.37" r="1.85" fill="#f7941d"/>
<circle cx="107.99" cy="778.23" r="1.85" fill="#f7941d"/>
<circle cx="107.52" cy="776.08" r="1.85" fill="#f7941d"/>
<circle cx="107.51" cy="771.09" r="1.85" fill="#f7941d"/>
<circle cx="107.08" cy="768.94" r="1.85" fill="#f7941d"/>
<circle cx="106.71" cy="766.80" r="1.85" fill="#f7941d"/>
<circle cx="107.29" cy="761.09" r="1.85" fill="#f7941d"/>
<circle cx="107.64" cy="756.09" r="1.85" fill="#f7941d"/>
<circle cx="106.81" cy="752.52" r="1.85" fill="#f7941d"/>
<circle cx="107.97" cy="748.95" r="1.85" fill="#f7941d"/>
<circle cx="107.07" cy="744.67" r="1.85" fill="#f7941d"/>
<circle cx="107.07" cy="739.67" r="1.85" fill="#f7941d"/>
<circle cx="106.77" cy="734.67" r="1.85" fill="#f7941d"/>
<circle cx="108.30" cy="727.53" r="1.85" fill="#f7941d"/>
<circle cx="110.00" cy="793.65" r="1.85" fill="#f7941d"/>
<circle cx="105.50" cy="787.51" r="1.85" fill="#f7941d"/>
<circle cx="109.30" cy="773.23" r="1.85" fill="#f7941d"/>
<circle cx="109.50" cy="763.23" r="1.85" fill="#f7941d"/>
<circle cx="106.00" cy="774.66" r="1.85" fill="#f7941d"/>
<circle cx="109.00" cy="786.08" r="1.85" fill="#f7941d"/>
<circle cx="101.20" cy="795.36" r="1.85" fill="#f7941d"/>
<circle cx="103.00" cy="795.36" r="1.85" fill="#f7941d"/>
<circle cx="104.80" cy="795.36" r="1.85" fill="#f7941d"/>
<circle cx="106.60" cy="795.36" r="1.85" fill="#f7941d"/>
<circle cx="108.40" cy="795.36" r="1.85" fill="#f7941d"/>
<circle cx="110.20" cy="795.36" r="1.85" fill="#f7941d"/>
<circle cx="112.00" cy="795.36" r="1.85" fill="#f7941d"/>
<circle cx="113.80" cy="795.36" r="1.85" fill="#f7941d"/>
<polyline points="83.00,741.30 83.00,710.80 107.50,710.80 107.50,719.50" fill="none" stroke="#111" stroke-width="0.95" />
<text transform="translate(95.55,712.01)" font-size="12.2" fill="#111" text-anchor="middle" font-weight="bold" letter-spacing="0.55">****</text>
<text transform="translate(86.00,823.00) rotate(-45)" font-size="12.5" fill="#111" text-anchor="end" font-weight="normal"  textLength="41.5" lengthAdjust="spacingAndGlyphs">Control</text>
<text transform="translate(110.30,821.00) rotate(-45)" font-size="12.5" fill="#111" text-anchor="end" font-weight="normal"  textLength="48" lengthAdjust="spacingAndGlyphs">Myeloma</text>
<line x1="187.00" y1="716.00" x2="187.00" y2="808.25" stroke="#111" stroke-width="1.5" />
<line x1="186.25" y1="807.50" x2="244.50" y2="807.50" stroke="#111" stroke-width="1.5" />
<line x1="182.00" y1="807.50" x2="187.00" y2="807.50" stroke="#111" stroke-width="1.3" />
<line x1="183.40" y1="803.20" x2="187.00" y2="803.20" stroke="#111" stroke-width="1.0" />
<line x1="183.40" y1="800.69" x2="187.00" y2="800.69" stroke="#111" stroke-width="1.0" />
<line x1="183.40" y1="798.90" x2="187.00" y2="798.90" stroke="#111" stroke-width="1.0" />
<line x1="183.40" y1="797.52" x2="187.00" y2="797.52" stroke="#111" stroke-width="1.0" />
<line x1="183.40" y1="796.39" x2="187.00" y2="796.39" stroke="#111" stroke-width="1.0" />
<line x1="183.40" y1="795.43" x2="187.00" y2="795.43" stroke="#111" stroke-width="1.0" />
<line x1="183.40" y1="794.60" x2="187.00" y2="794.60" stroke="#111" stroke-width="1.0" />
<line x1="183.40" y1="793.87" x2="187.00" y2="793.87" stroke="#111" stroke-width="1.0" />
<line x1="182.00" y1="793.22" x2="187.00" y2="793.22" stroke="#111" stroke-width="1.3" />
<line x1="183.40" y1="788.92" x2="187.00" y2="788.92" stroke="#111" stroke-width="1.0" />
<line x1="183.40" y1="786.41" x2="187.00" y2="786.41" stroke="#111" stroke-width="1.0" />
<line x1="183.40" y1="784.62" x2="187.00" y2="784.62" stroke="#111" stroke-width="1.0" />
<line x1="183.40" y1="783.24" x2="187.00" y2="783.24" stroke="#111" stroke-width="1.0" />
<line x1="183.40" y1="782.11" x2="187.00" y2="782.11" stroke="#111" stroke-width="1.0" />
<line x1="183.40" y1="781.15" x2="187.00" y2="781.15" stroke="#111" stroke-width="1.0" />
<line x1="183.40" y1="780.32" x2="187.00" y2="780.32" stroke="#111" stroke-width="1.0" />
<line x1="183.40" y1="779.59" x2="187.00" y2="779.59" stroke="#111" stroke-width="1.0" />
<line x1="182.00" y1="778.94" x2="187.00" y2="778.94" stroke="#111" stroke-width="1.3" />
<line x1="183.40" y1="774.64" x2="187.00" y2="774.64" stroke="#111" stroke-width="1.0" />
<line x1="183.40" y1="772.13" x2="187.00" y2="772.13" stroke="#111" stroke-width="1.0" />
<line x1="183.40" y1="770.34" x2="187.00" y2="770.34" stroke="#111" stroke-width="1.0" />
<line x1="183.40" y1="768.96" x2="187.00" y2="768.96" stroke="#111" stroke-width="1.0" />
<line x1="183.40" y1="767.83" x2="187.00" y2="767.83" stroke="#111" stroke-width="1.0" />
<line x1="183.40" y1="766.87" x2="187.00" y2="766.87" stroke="#111" stroke-width="1.0" />
<line x1="183.40" y1="766.04" x2="187.00" y2="766.04" stroke="#111" stroke-width="1.0" />
<line x1="183.40" y1="765.31" x2="187.00" y2="765.31" stroke="#111" stroke-width="1.0" />
<line x1="182.00" y1="764.66" x2="187.00" y2="764.66" stroke="#111" stroke-width="1.3" />
<line x1="183.40" y1="760.36" x2="187.00" y2="760.36" stroke="#111" stroke-width="1.0" />
<line x1="183.40" y1="757.85" x2="187.00" y2="757.85" stroke="#111" stroke-width="1.0" />
<line x1="183.40" y1="756.06" x2="187.00" y2="756.06" stroke="#111" stroke-width="1.0" />
<line x1="183.40" y1="754.68" x2="187.00" y2="754.68" stroke="#111" stroke-width="1.0" />
<line x1="183.40" y1="753.55" x2="187.00" y2="753.55" stroke="#111" stroke-width="1.0" />
<line x1="183.40" y1="752.59" x2="187.00" y2="752.59" stroke="#111" stroke-width="1.0" />
<line x1="183.40" y1="751.76" x2="187.00" y2="751.76" stroke="#111" stroke-width="1.0" />
<line x1="183.40" y1="751.03" x2="187.00" y2="751.03" stroke="#111" stroke-width="1.0" />
<line x1="182.00" y1="750.38" x2="187.00" y2="750.38" stroke="#111" stroke-width="1.3" />
<line x1="183.40" y1="746.08" x2="187.00" y2="746.08" stroke="#111" stroke-width="1.0" />
<line x1="183.40" y1="743.57" x2="187.00" y2="743.57" stroke="#111" stroke-width="1.0" />
<line x1="183.40" y1="741.78" x2="187.00" y2="741.78" stroke="#111" stroke-width="1.0" />
<line x1="183.40" y1="740.40" x2="187.00" y2="740.40" stroke="#111" stroke-width="1.0" />
<line x1="183.40" y1="739.27" x2="187.00" y2="739.27" stroke="#111" stroke-width="1.0" />
<line x1="183.40" y1="738.31" x2="187.00" y2="738.31" stroke="#111" stroke-width="1.0" />
<line x1="183.40" y1="737.48" x2="187.00" y2="737.48" stroke="#111" stroke-width="1.0" />
<line x1="183.40" y1="736.75" x2="187.00" y2="736.75" stroke="#111" stroke-width="1.0" />
<line x1="182.00" y1="736.10" x2="187.00" y2="736.10" stroke="#111" stroke-width="1.3" />
<line x1="183.40" y1="731.80" x2="187.00" y2="731.80" stroke="#111" stroke-width="1.0" />
<line x1="183.40" y1="729.29" x2="187.00" y2="729.29" stroke="#111" stroke-width="1.0" />
<line x1="183.40" y1="727.50" x2="187.00" y2="727.50" stroke="#111" stroke-width="1.0" />
<line x1="183.40" y1="726.12" x2="187.00" y2="726.12" stroke="#111" stroke-width="1.0" />
<line x1="183.40" y1="724.99" x2="187.00" y2="724.99" stroke="#111" stroke-width="1.0" />
<line x1="183.40" y1="724.03" x2="187.00" y2="724.03" stroke="#111" stroke-width="1.0" />
<line x1="183.40" y1="723.20" x2="187.00" y2="723.20" stroke="#111" stroke-width="1.0" />
<line x1="183.40" y1="722.47" x2="187.00" y2="722.47" stroke="#111" stroke-width="1.0" />
<line x1="182.00" y1="721.82" x2="187.00" y2="721.82" stroke="#111" stroke-width="1.3" />
<line x1="203.00" y1="807.50" x2="203.00" y2="813.00" stroke="#111" stroke-width="1.2" />
<line x1="227.50" y1="807.50" x2="227.50" y2="813.00" stroke="#111" stroke-width="1.2" />
<text transform="translate(178.70,811.80)" font-size="12" fill="#111" text-anchor="end" font-weight="normal" >0</text>
<text transform="translate(178.70,797.52)" font-size="12" fill="#111" text-anchor="end" font-weight="normal" >1</text>
<text transform="translate(178.70,783.24)" font-size="12" fill="#111" text-anchor="end" font-weight="normal" >2</text>
<text transform="translate(178.70,768.96)" font-size="12" fill="#111" text-anchor="end" font-weight="normal" >3</text>
<text transform="translate(178.70,754.68)" font-size="12" fill="#111" text-anchor="end" font-weight="normal" >4</text>
<text transform="translate(178.70,740.40)" font-size="12" fill="#111" text-anchor="end" font-weight="normal" >5</text>
<text transform="translate(178.70,726.12)" font-size="12" fill="#111" text-anchor="end" font-weight="normal" >6</text>
<text transform="translate(162.20,761.00) rotate(-90)" font-size="14" fill="#111" text-anchor="middle" textLength="89.4" lengthAdjust="spacingAndGlyphs"><tspan font-weight="bold" stroke="#111" stroke-width="0.3">Delta</tspan> ED50 (Log)</text>
<line x1="203.00" y1="780.37" x2="203.00" y2="761.09" stroke="#3bb54a" stroke-width="1.0" />
<line x1="199.00" y1="780.37" x2="207.00" y2="780.37" stroke="#3bb54a" stroke-width="1.0" />
<line x1="199.00" y1="761.09" x2="207.00" y2="761.09" stroke="#3bb54a" stroke-width="1.0" />
<rect x="195.50" y="766.09" width="15.00" height="7.14" fill="#a4dbaa" stroke="#3bb54a" stroke-width="1.0"/>
<line x1="195.50" y1="769.66" x2="210.50" y2="769.66" stroke="#3bb54a" stroke-width="1.0" />
<circle cx="203.84" cy="768.34" r="1.8" fill="#3bb54a"/>
<circle cx="206.80" cy="771.88" r="1.8" fill="#3bb54a"/>
<circle cx="204.82" cy="765.75" r="1.8" fill="#3bb54a"/>
<circle cx="207.91" cy="772.79" r="1.8" fill="#3bb54a"/>
<circle cx="204.82" cy="768.49" r="1.8" fill="#3bb54a"/>
<circle cx="203.04" cy="765.00" r="1.8" fill="#3bb54a"/>
<circle cx="203.34" cy="770.21" r="1.8" fill="#3bb54a"/>
<circle cx="208.32" cy="768.30" r="1.8" fill="#3bb54a"/>
<circle cx="200.62" cy="771.56" r="1.8" fill="#3bb54a"/>
<circle cx="202.95" cy="774.13" r="1.8" fill="#3bb54a"/>
<circle cx="204.29" cy="767.30" r="1.8" fill="#3bb54a"/>
<circle cx="202.11" cy="766.19" r="1.8" fill="#3bb54a"/>
<circle cx="208.14" cy="769.10" r="1.8" fill="#3bb54a"/>
<circle cx="205.18" cy="773.48" r="1.8" fill="#3bb54a"/>
<circle cx="197.67" cy="764.86" r="1.8" fill="#3bb54a"/>
<circle cx="200.41" cy="772.52" r="1.8" fill="#3bb54a"/>
<circle cx="207.76" cy="767.16" r="1.8" fill="#3bb54a"/>
<circle cx="198.48" cy="771.44" r="1.8" fill="#3bb54a"/>
<circle cx="203.00" cy="761.09" r="1.8" fill="#3bb54a"/>
<circle cx="201.00" cy="762.52" r="1.8" fill="#3bb54a"/>
<circle cx="205.00" cy="763.23" r="1.8" fill="#3bb54a"/>
<circle cx="203.00" cy="780.37" r="1.8" fill="#3bb54a"/>
<circle cx="205.50" cy="779.65" r="1.8" fill="#3bb54a"/>
<circle cx="200.50" cy="778.94" r="1.8" fill="#3bb54a"/>
<circle cx="203.00" cy="777.51" r="1.8" fill="#3bb54a"/>
<circle cx="204.50" cy="776.08" r="1.8" fill="#3bb54a"/>
<line x1="227.70" y1="802.50" x2="227.70" y2="742.24" stroke="#f7941d" stroke-width="1.0" />
<line x1="223.70" y1="802.50" x2="231.70" y2="802.50" stroke="#f7941d" stroke-width="1.0" />
<line x1="223.70" y1="742.24" x2="231.70" y2="742.24" stroke="#f7941d" stroke-width="1.0" />
<rect x="219.70" y="778.94" width="16.00" height="17.85" fill="#fcd3a2" stroke="#f7941d" stroke-width="1.0"/>
<line x1="219.70" y1="793.93" x2="235.70" y2="793.93" stroke="#f7941d" stroke-width="1.0" />
<line x1="219.70" y1="794.65" x2="235.70" y2="794.65" stroke="#f7941d" stroke-width="2.2" />
<circle cx="228.08" cy="802.50" r="1.85" fill="#f7941d"/>
<circle cx="228.30" cy="798.65" r="1.85" fill="#f7941d"/>
<circle cx="227.89" cy="791.79" r="1.85" fill="#f7941d"/>
<circle cx="226.95" cy="788.94" r="1.85" fill="#f7941d"/>
<circle cx="227.43" cy="786.08" r="1.85" fill="#f7941d"/>
<circle cx="227.70" cy="783.22" r="1.85" fill="#f7941d"/>
<circle cx="227.09" cy="780.37" r="1.85" fill="#f7941d"/>
<circle cx="228.42" cy="778.23" r="1.85" fill="#f7941d"/>
<circle cx="227.49" cy="775.37" r="1.85" fill="#f7941d"/>
<circle cx="227.15" cy="772.51" r="1.85" fill="#f7941d"/>
<circle cx="228.21" cy="768.23" r="1.85" fill="#f7941d"/>
<circle cx="227.10" cy="764.66" r="1.85" fill="#f7941d"/>
<circle cx="228.38" cy="761.09" r="1.85" fill="#f7941d"/>
<circle cx="227.63" cy="751.81" r="1.85" fill="#f7941d"/>
<circle cx="227.78" cy="742.24" r="1.85" fill="#f7941d"/>
<circle cx="229.50" cy="790.36" r="1.85" fill="#f7941d"/>
<circle cx="225.90" cy="784.65" r="1.85" fill="#f7941d"/>
<circle cx="229.70" cy="776.80" r="1.85" fill="#f7941d"/>
<circle cx="226.20" cy="765.37" r="1.85" fill="#f7941d"/>
<circle cx="229.20" cy="751.09" r="1.85" fill="#f7941d"/>
<circle cx="221.20" cy="794.93" r="1.85" fill="#f7941d"/>
<circle cx="223.06" cy="794.93" r="1.85" fill="#f7941d"/>
<circle cx="224.91" cy="794.93" r="1.85" fill="#f7941d"/>
<circle cx="226.77" cy="794.93" r="1.85" fill="#f7941d"/>
<circle cx="228.63" cy="794.93" r="1.85" fill="#f7941d"/>
<circle cx="230.49" cy="794.93" r="1.85" fill="#f7941d"/>
<circle cx="232.34" cy="794.93" r="1.85" fill="#f7941d"/>
<circle cx="234.20" cy="794.93" r="1.85" fill="#f7941d"/>
<polyline points="203.00,755.00 203.00,721.80 227.50,721.80 227.50,733.80" fill="none" stroke="#111" stroke-width="0.95" />
<text transform="translate(215.55,723.51)" font-size="12.2" fill="#111" text-anchor="middle" font-weight="bold" letter-spacing="0.55">****</text>
<text transform="translate(206.00,823.00) rotate(-45)" font-size="12.5" fill="#111" text-anchor="end" font-weight="normal"  textLength="41.5" lengthAdjust="spacingAndGlyphs">Control</text>
<text transform="translate(230.30,821.00) rotate(-45)" font-size="12.5" fill="#111" text-anchor="end" font-weight="normal"  textLength="48" lengthAdjust="spacingAndGlyphs">Myeloma</text>
<text transform="translate(418.50,676.30)" font-size="14.2" fill="#111" text-anchor="middle" font-weight="normal"  textLength="59.3" lengthAdjust="spacingAndGlyphs">Myeloma</text>
<text transform="translate(418.70,693.30)" font-size="14.2" fill="#111" text-anchor="middle" font-weight="normal"  textLength="32.5" lengthAdjust="spacingAndGlyphs">n=60</text>
<text transform="translate(476.50,692.50)" font-size="12" fill="#111" text-anchor="middle" font-weight="normal" >p=0.07</text>
<line x1="330.40" y1="705.00" x2="330.40" y2="808.25" stroke="#111" stroke-width="1.5" />
<line x1="329.65" y1="807.50" x2="395.30" y2="807.50" stroke="#111" stroke-width="1.5" />
<line x1="325.40" y1="807.50" x2="330.40" y2="807.50" stroke="#111" stroke-width="1.3" />
<line x1="326.80" y1="802.64" x2="330.40" y2="802.64" stroke="#111" stroke-width="1.0" />
<line x1="326.80" y1="799.79" x2="330.40" y2="799.79" stroke="#111" stroke-width="1.0" />
<line x1="326.80" y1="797.78" x2="330.40" y2="797.78" stroke="#111" stroke-width="1.0" />
<line x1="326.80" y1="796.21" x2="330.40" y2="796.21" stroke="#111" stroke-width="1.0" />
<line x1="326.80" y1="794.93" x2="330.40" y2="794.93" stroke="#111" stroke-width="1.0" />
<line x1="326.80" y1="793.85" x2="330.40" y2="793.85" stroke="#111" stroke-width="1.0" />
<line x1="326.80" y1="792.92" x2="330.40" y2="792.92" stroke="#111" stroke-width="1.0" />
<line x1="326.80" y1="792.09" x2="330.40" y2="792.09" stroke="#111" stroke-width="1.0" />
<line x1="325.40" y1="791.35" x2="330.40" y2="791.35" stroke="#111" stroke-width="1.3" />
<line x1="326.80" y1="786.49" x2="330.40" y2="786.49" stroke="#111" stroke-width="1.0" />
<line x1="326.80" y1="783.64" x2="330.40" y2="783.64" stroke="#111" stroke-width="1.0" />
<line x1="326.80" y1="781.63" x2="330.40" y2="781.63" stroke="#111" stroke-width="1.0" />
<line x1="326.80" y1="780.06" x2="330.40" y2="780.06" stroke="#111" stroke-width="1.0" />
<line x1="326.80" y1="778.78" x2="330.40" y2="778.78" stroke="#111" stroke-width="1.0" />
<line x1="326.80" y1="777.70" x2="330.40" y2="777.70" stroke="#111" stroke-width="1.0" />
<line x1="326.80" y1="776.77" x2="330.40" y2="776.77" stroke="#111" stroke-width="1.0" />
<line x1="326.80" y1="775.94" x2="330.40" y2="775.94" stroke="#111" stroke-width="1.0" />
<line x1="325.40" y1="775.20" x2="330.40" y2="775.20" stroke="#111" stroke-width="1.3" />
<line x1="326.80" y1="770.34" x2="330.40" y2="770.34" stroke="#111" stroke-width="1.0" />
<line x1="326.80" y1="767.49" x2="330.40" y2="767.49" stroke="#111" stroke-width="1.0" />
<line x1="326.80" y1="765.48" x2="330.40" y2="765.48" stroke="#111" stroke-width="1.0" />
<line x1="326.80" y1="763.91" x2="330.40" y2="763.91" stroke="#111" stroke-width="1.0" />
<line x1="326.80" y1="762.63" x2="330.40" y2="762.63" stroke="#111" stroke-width="1.0" />
<line x1="326.80" y1="761.55" x2="330.40" y2="761.55" stroke="#111" stroke-width="1.0" />
<line x1="326.80" y1="760.62" x2="330.40" y2="760.62" stroke="#111" stroke-width="1.0" />
<line x1="326.80" y1="759.79" x2="330.40" y2="759.79" stroke="#111" stroke-width="1.0" />
<line x1="325.40" y1="759.05" x2="330.40" y2="759.05" stroke="#111" stroke-width="1.3" />
<line x1="326.80" y1="754.19" x2="330.40" y2="754.19" stroke="#111" stroke-width="1.0" />
<line x1="326.80" y1="751.34" x2="330.40" y2="751.34" stroke="#111" stroke-width="1.0" />
<line x1="326.80" y1="749.33" x2="330.40" y2="749.33" stroke="#111" stroke-width="1.0" />
<line x1="326.80" y1="747.76" x2="330.40" y2="747.76" stroke="#111" stroke-width="1.0" />
<line x1="326.80" y1="746.48" x2="330.40" y2="746.48" stroke="#111" stroke-width="1.0" />
<line x1="326.80" y1="745.40" x2="330.40" y2="745.40" stroke="#111" stroke-width="1.0" />
<line x1="326.80" y1="744.47" x2="330.40" y2="744.47" stroke="#111" stroke-width="1.0" />
<line x1="326.80" y1="743.64" x2="330.40" y2="743.64" stroke="#111" stroke-width="1.0" />
<line x1="325.40" y1="742.90" x2="330.40" y2="742.90" stroke="#111" stroke-width="1.3" />
<line x1="326.80" y1="738.04" x2="330.40" y2="738.04" stroke="#111" stroke-width="1.0" />
<line x1="326.80" y1="735.19" x2="330.40" y2="735.19" stroke="#111" stroke-width="1.0" />
<line x1="326.80" y1="733.18" x2="330.40" y2="733.18" stroke="#111" stroke-width="1.0" />
<line x1="326.80" y1="731.61" x2="330.40" y2="731.61" stroke="#111" stroke-width="1.0" />
<line x1="326.80" y1="730.33" x2="330.40" y2="730.33" stroke="#111" stroke-width="1.0" />
<line x1="326.80" y1="729.25" x2="330.40" y2="729.25" stroke="#111" stroke-width="1.0" />
<line x1="326.80" y1="728.32" x2="330.40" y2="728.32" stroke="#111" stroke-width="1.0" />
<line x1="326.80" y1="727.49" x2="330.40" y2="727.49" stroke="#111" stroke-width="1.0" />
<line x1="325.40" y1="726.75" x2="330.40" y2="726.75" stroke="#111" stroke-width="1.3" />
<line x1="326.80" y1="721.89" x2="330.40" y2="721.89" stroke="#111" stroke-width="1.0" />
<line x1="326.80" y1="719.04" x2="330.40" y2="719.04" stroke="#111" stroke-width="1.0" />
<line x1="326.80" y1="717.03" x2="330.40" y2="717.03" stroke="#111" stroke-width="1.0" />
<line x1="326.80" y1="715.46" x2="330.40" y2="715.46" stroke="#111" stroke-width="1.0" />
<line x1="326.80" y1="714.18" x2="330.40" y2="714.18" stroke="#111" stroke-width="1.0" />
<line x1="326.80" y1="713.10" x2="330.40" y2="713.10" stroke="#111" stroke-width="1.0" />
<line x1="326.80" y1="712.17" x2="330.40" y2="712.17" stroke="#111" stroke-width="1.0" />
<line x1="326.80" y1="711.34" x2="330.40" y2="711.34" stroke="#111" stroke-width="1.0" />
<line x1="325.40" y1="710.60" x2="330.40" y2="710.60" stroke="#111" stroke-width="1.3" />
<line x1="348.20" y1="807.50" x2="348.20" y2="813.00" stroke="#111" stroke-width="1.2" />
<line x1="375.80" y1="807.50" x2="375.80" y2="813.00" stroke="#111" stroke-width="1.2" />
<text transform="translate(321.50,811.80)" font-size="12" fill="#111" text-anchor="end" font-weight="normal" >0</text>
<text transform="translate(321.50,795.65)" font-size="12" fill="#111" text-anchor="end" font-weight="normal" >1</text>
<text transform="translate(321.50,779.50)" font-size="12" fill="#111" text-anchor="end" font-weight="normal" >2</text>
<text transform="translate(321.50,763.35)" font-size="12" fill="#111" text-anchor="end" font-weight="normal" >3</text>
<text transform="translate(321.50,747.20)" font-size="12" fill="#111" text-anchor="end" font-weight="normal" >4</text>
<text transform="translate(321.50,731.05)" font-size="12" fill="#111" text-anchor="end" font-weight="normal" >5</text>
<text transform="translate(321.50,714.90)" font-size="12" fill="#111" text-anchor="end" font-weight="normal" >6</text>
<text transform="translate(305.80,756.00) rotate(-90)" font-size="14" fill="#111" text-anchor="middle" textLength="91.3" lengthAdjust="spacingAndGlyphs"><tspan font-weight="bold" stroke="#111" stroke-width="0.3">Alpha</tspan> ED50 (Log)</text>
<line x1="348.40" y1="800.23" x2="348.40" y2="726.75" stroke="#c8102e" stroke-width="1.0" />
<line x1="344.40" y1="800.23" x2="352.40" y2="800.23" stroke="#c8102e" stroke-width="1.0" />
<line x1="344.40" y1="726.75" x2="352.40" y2="726.75" stroke="#c8102e" stroke-width="1.0" />
<rect x="340.50" y="767.45" width="15.80" height="26.32" fill="#e69dab" stroke="#c8102e" stroke-width="1.0"/>
<line x1="340.50" y1="775.20" x2="356.30" y2="775.20" stroke="#c8102e" stroke-width="1.0" />
<circle cx="348.09" cy="800.23" r="1.6" fill="#c8102e"/>
<circle cx="348.37" cy="796.20" r="1.6" fill="#c8102e"/>
<circle cx="347.77" cy="791.35" r="1.6" fill="#c8102e"/>
<circle cx="347.47" cy="786.50" r="1.6" fill="#c8102e"/>
<circle cx="349.13" cy="781.66" r="1.6" fill="#c8102e"/>
<circle cx="347.87" cy="776.82" r="1.6" fill="#c8102e"/>
<circle cx="348.96" cy="771.97" r="1.6" fill="#c8102e"/>
<circle cx="347.82" cy="767.12" r="1.6" fill="#c8102e"/>
<circle cx="349.34" cy="765.51" r="1.6" fill="#c8102e"/>
<circle cx="349.19" cy="759.05" r="1.6" fill="#c8102e"/>
<circle cx="348.91" cy="750.98" r="1.6" fill="#c8102e"/>
<circle cx="348.93" cy="742.90" r="1.6" fill="#c8102e"/>
<circle cx="348.56" cy="738.06" r="1.6" fill="#c8102e"/>
<circle cx="348.86" cy="731.60" r="1.6" fill="#c8102e"/>
<circle cx="347.64" cy="726.75" r="1.6" fill="#c8102e"/>
<circle cx="341.40" cy="793.45" r="1.6" fill="#c8102e"/>
<circle cx="343.40" cy="793.45" r="1.6" fill="#c8102e"/>
<circle cx="345.40" cy="793.45" r="1.6" fill="#c8102e"/>
<circle cx="347.40" cy="793.45" r="1.6" fill="#c8102e"/>
<circle cx="349.40" cy="793.45" r="1.6" fill="#c8102e"/>
<circle cx="351.40" cy="793.45" r="1.6" fill="#c8102e"/>
<circle cx="353.40" cy="793.45" r="1.6" fill="#c8102e"/>
<circle cx="355.40" cy="793.45" r="1.6" fill="#c8102e"/>
<circle cx="347.45" cy="786.13" r="1.6" fill="#c8102e"/>
<circle cx="345.73" cy="770.69" r="1.6" fill="#c8102e"/>
<circle cx="349.02" cy="775.75" r="1.6" fill="#c8102e"/>
<circle cx="348.82" cy="782.68" r="1.6" fill="#c8102e"/>
<circle cx="350.25" cy="778.32" r="1.6" fill="#c8102e"/>
<circle cx="350.65" cy="776.39" r="1.6" fill="#c8102e"/>
<line x1="376.00" y1="793.29" x2="376.00" y2="717.87" stroke="#1f5a96" stroke-width="1.0" />
<line x1="372.00" y1="793.29" x2="380.00" y2="793.29" stroke="#1f5a96" stroke-width="1.0" />
<line x1="372.00" y1="717.87" x2="380.00" y2="717.87" stroke="#1f5a96" stroke-width="1.0" />
<rect x="368.00" y="759.86" width="16.00" height="33.43" fill="#8badc9" stroke="#1f5a96" stroke-width="1.0"/>
<line x1="368.00" y1="769.55" x2="384.00" y2="769.55" stroke="#1f5a96" stroke-width="1.0" />
<circle cx="369.00" cy="793.45" r="1.6" fill="#1f5a96"/>
<circle cx="371.50" cy="793.45" r="1.6" fill="#1f5a96"/>
<circle cx="374.00" cy="793.45" r="1.6" fill="#1f5a96"/>
<circle cx="376.50" cy="793.45" r="1.6" fill="#1f5a96"/>
<circle cx="379.00" cy="793.45" r="1.6" fill="#1f5a96"/>
<circle cx="381.50" cy="793.45" r="1.6" fill="#1f5a96"/>
<circle cx="383.50" cy="793.45" r="1.6" fill="#1f5a96"/>
<circle cx="376.00" cy="717.87" r="1.6" fill="#1f5a96"/>
<circle cx="376.00" cy="742.09" r="1.6" fill="#1f5a96"/>
<circle cx="376.00" cy="751.78" r="1.6" fill="#1f5a96"/>
<circle cx="376.00" cy="755.82" r="1.6" fill="#1f5a96"/>
<circle cx="372.00" cy="761.47" r="1.6" fill="#1f5a96"/>
<circle cx="375.00" cy="760.66" r="1.6" fill="#1f5a96"/>
<circle cx="379.00" cy="761.47" r="1.6" fill="#1f5a96"/>
<circle cx="373.00" cy="766.32" r="1.6" fill="#1f5a96"/>
<circle cx="377.00" cy="765.51" r="1.6" fill="#1f5a96"/>
<circle cx="371.00" cy="769.55" r="1.6" fill="#1f5a96"/>
<circle cx="375.00" cy="770.36" r="1.6" fill="#1f5a96"/>
<circle cx="380.00" cy="770.36" r="1.6" fill="#1f5a96"/>
<circle cx="374.00" cy="773.59" r="1.6" fill="#1f5a96"/>
<circle cx="378.00" cy="774.39" r="1.6" fill="#1f5a96"/>
<polyline points="348.20,717.00 348.20,698.30 376.00,698.30 376.00,708.00" fill="none" stroke="#111" stroke-width="0.95" />
<text transform="translate(362.40,699.21)" font-size="12.2" fill="#111" text-anchor="middle" font-weight="bold" letter-spacing="0.55">*</text>
<text transform="translate(352.20,822.00) rotate(-45)" font-size="12.5" fill="#111" text-anchor="end" font-weight="normal"  textLength="55" lengthAdjust="spacingAndGlyphs">Anti-CD38</text>
<text transform="translate(378.10,821.20) rotate(-45)" font-size="12.5" fill="#111" text-anchor="end" font-weight="normal" >Other</text>
<line x1="445.40" y1="705.00" x2="445.40" y2="808.25" stroke="#111" stroke-width="1.5" />
<line x1="444.65" y1="807.50" x2="509.00" y2="807.50" stroke="#111" stroke-width="1.5" />
<line x1="440.40" y1="807.50" x2="445.40" y2="807.50" stroke="#111" stroke-width="1.3" />
<line x1="441.80" y1="802.64" x2="445.40" y2="802.64" stroke="#111" stroke-width="1.0" />
<line x1="441.80" y1="799.79" x2="445.40" y2="799.79" stroke="#111" stroke-width="1.0" />
<line x1="441.80" y1="797.78" x2="445.40" y2="797.78" stroke="#111" stroke-width="1.0" />
<line x1="441.80" y1="796.21" x2="445.40" y2="796.21" stroke="#111" stroke-width="1.0" />
<line x1="441.80" y1="794.93" x2="445.40" y2="794.93" stroke="#111" stroke-width="1.0" />
<line x1="441.80" y1="793.85" x2="445.40" y2="793.85" stroke="#111" stroke-width="1.0" />
<line x1="441.80" y1="792.92" x2="445.40" y2="792.92" stroke="#111" stroke-width="1.0" />
<line x1="441.80" y1="792.09" x2="445.40" y2="792.09" stroke="#111" stroke-width="1.0" />
<line x1="440.40" y1="791.35" x2="445.40" y2="791.35" stroke="#111" stroke-width="1.3" />
<line x1="441.80" y1="786.49" x2="445.40" y2="786.49" stroke="#111" stroke-width="1.0" />
<line x1="441.80" y1="783.64" x2="445.40" y2="783.64" stroke="#111" stroke-width="1.0" />
<line x1="441.80" y1="781.63" x2="445.40" y2="781.63" stroke="#111" stroke-width="1.0" />
<line x1="441.80" y1="780.06" x2="445.40" y2="780.06" stroke="#111" stroke-width="1.0" />
<line x1="441.80" y1="778.78" x2="445.40" y2="778.78" stroke="#111" stroke-width="1.0" />
<line x1="441.80" y1="777.70" x2="445.40" y2="777.70" stroke="#111" stroke-width="1.0" />
<line x1="441.80" y1="776.77" x2="445.40" y2="776.77" stroke="#111" stroke-width="1.0" />
<line x1="441.80" y1="775.94" x2="445.40" y2="775.94" stroke="#111" stroke-width="1.0" />
<line x1="440.40" y1="775.20" x2="445.40" y2="775.20" stroke="#111" stroke-width="1.3" />
<line x1="441.80" y1="770.34" x2="445.40" y2="770.34" stroke="#111" stroke-width="1.0" />
<line x1="441.80" y1="767.49" x2="445.40" y2="767.49" stroke="#111" stroke-width="1.0" />
<line x1="441.80" y1="765.48" x2="445.40" y2="765.48" stroke="#111" stroke-width="1.0" />
<line x1="441.80" y1="763.91" x2="445.40" y2="763.91" stroke="#111" stroke-width="1.0" />
<line x1="441.80" y1="762.63" x2="445.40" y2="762.63" stroke="#111" stroke-width="1.0" />
<line x1="441.80" y1="761.55" x2="445.40" y2="761.55" stroke="#111" stroke-width="1.0" />
<line x1="441.80" y1="760.62" x2="445.40" y2="760.62" stroke="#111" stroke-width="1.0" />
<line x1="441.80" y1="759.79" x2="445.40" y2="759.79" stroke="#111" stroke-width="1.0" />
<line x1="440.40" y1="759.05" x2="445.40" y2="759.05" stroke="#111" stroke-width="1.3" />
<line x1="441.80" y1="754.19" x2="445.40" y2="754.19" stroke="#111" stroke-width="1.0" />
<line x1="441.80" y1="751.34" x2="445.40" y2="751.34" stroke="#111" stroke-width="1.0" />
<line x1="441.80" y1="749.33" x2="445.40" y2="749.33" stroke="#111" stroke-width="1.0" />
<line x1="441.80" y1="747.76" x2="445.40" y2="747.76" stroke="#111" stroke-width="1.0" />
<line x1="441.80" y1="746.48" x2="445.40" y2="746.48" stroke="#111" stroke-width="1.0" />
<line x1="441.80" y1="745.40" x2="445.40" y2="745.40" stroke="#111" stroke-width="1.0" />
<line x1="441.80" y1="744.47" x2="445.40" y2="744.47" stroke="#111" stroke-width="1.0" />
<line x1="441.80" y1="743.64" x2="445.40" y2="743.64" stroke="#111" stroke-width="1.0" />
<line x1="440.40" y1="742.90" x2="445.40" y2="742.90" stroke="#111" stroke-width="1.3" />
<line x1="441.80" y1="738.04" x2="445.40" y2="738.04" stroke="#111" stroke-width="1.0" />
<line x1="441.80" y1="735.19" x2="445.40" y2="735.19" stroke="#111" stroke-width="1.0" />
<line x1="441.80" y1="733.18" x2="445.40" y2="733.18" stroke="#111" stroke-width="1.0" />
<line x1="441.80" y1="731.61" x2="445.40" y2="731.61" stroke="#111" stroke-width="1.0" />
<line x1="441.80" y1="730.33" x2="445.40" y2="730.33" stroke="#111" stroke-width="1.0" />
<line x1="441.80" y1="729.25" x2="445.40" y2="729.25" stroke="#111" stroke-width="1.0" />
<line x1="441.80" y1="728.32" x2="445.40" y2="728.32" stroke="#111" stroke-width="1.0" />
<line x1="441.80" y1="727.49" x2="445.40" y2="727.49" stroke="#111" stroke-width="1.0" />
<line x1="440.40" y1="726.75" x2="445.40" y2="726.75" stroke="#111" stroke-width="1.3" />
<line x1="441.80" y1="721.89" x2="445.40" y2="721.89" stroke="#111" stroke-width="1.0" />
<line x1="441.80" y1="719.04" x2="445.40" y2="719.04" stroke="#111" stroke-width="1.0" />
<line x1="441.80" y1="717.03" x2="445.40" y2="717.03" stroke="#111" stroke-width="1.0" />
<line x1="441.80" y1="715.46" x2="445.40" y2="715.46" stroke="#111" stroke-width="1.0" />
<line x1="441.80" y1="714.18" x2="445.40" y2="714.18" stroke="#111" stroke-width="1.0" />
<line x1="441.80" y1="713.10" x2="445.40" y2="713.10" stroke="#111" stroke-width="1.0" />
<line x1="441.80" y1="712.17" x2="445.40" y2="712.17" stroke="#111" stroke-width="1.0" />
<line x1="441.80" y1="711.34" x2="445.40" y2="711.34" stroke="#111" stroke-width="1.0" />
<line x1="440.40" y1="710.60" x2="445.40" y2="710.60" stroke="#111" stroke-width="1.3" />
<line x1="463.00" y1="807.50" x2="463.00" y2="813.00" stroke="#111" stroke-width="1.2" />
<line x1="490.50" y1="807.50" x2="490.50" y2="813.00" stroke="#111" stroke-width="1.2" />
<text transform="translate(436.50,811.80)" font-size="12" fill="#111" text-anchor="end" font-weight="normal" >0</text>
<text transform="translate(436.50,795.65)" font-size="12" fill="#111" text-anchor="end" font-weight="normal" >1</text>
<text transform="translate(436.50,779.50)" font-size="12" fill="#111" text-anchor="end" font-weight="normal" >2</text>
<text transform="translate(436.50,763.35)" font-size="12" fill="#111" text-anchor="end" font-weight="normal" >3</text>
<text transform="translate(436.50,747.20)" font-size="12" fill="#111" text-anchor="end" font-weight="normal" >4</text>
<text transform="translate(436.50,731.05)" font-size="12" fill="#111" text-anchor="end" font-weight="normal" >5</text>
<text transform="translate(436.50,714.90)" font-size="12" fill="#111" text-anchor="end" font-weight="normal" >6</text>
<text transform="translate(420.80,756.00) rotate(-90)" font-size="14" fill="#111" text-anchor="middle" textLength="90" lengthAdjust="spacingAndGlyphs"><tspan font-weight="bold" stroke="#111" stroke-width="0.3">Delta</tspan> ED50 (Log)</text>
<line x1="463.20" y1="797.49" x2="463.20" y2="733.69" stroke="#c8102e" stroke-width="1.0" />
<line x1="459.20" y1="797.49" x2="467.20" y2="797.49" stroke="#c8102e" stroke-width="1.0" />
<line x1="459.20" y1="733.69" x2="467.20" y2="733.69" stroke="#c8102e" stroke-width="1.0" />
<rect x="455.45" y="776.33" width="15.50" height="18.25" fill="#e69dab" stroke="#c8102e" stroke-width="1.0"/>
<line x1="455.45" y1="792.97" x2="470.95" y2="792.97" stroke="#c8102e" stroke-width="1.0" />
<line x1="455.50" y1="793.45" x2="471.00" y2="793.45" stroke="#c8102e" stroke-width="2.2" />
<circle cx="463.15" cy="797.49" r="1.6" fill="#c8102e"/>
<circle cx="463.85" cy="795.39" r="1.6" fill="#c8102e"/>
<circle cx="462.60" cy="791.35" r="1.6" fill="#c8102e"/>
<circle cx="464.05" cy="789.74" r="1.6" fill="#c8102e"/>
<circle cx="463.98" cy="784.89" r="1.6" fill="#c8102e"/>
<circle cx="463.02" cy="780.04" r="1.6" fill="#c8102e"/>
<circle cx="462.93" cy="776.82" r="1.6" fill="#c8102e"/>
<circle cx="463.10" cy="773.59" r="1.6" fill="#c8102e"/>
<circle cx="462.97" cy="770.36" r="1.6" fill="#c8102e"/>
<circle cx="464.19" cy="765.51" r="1.6" fill="#c8102e"/>
<circle cx="462.97" cy="761.47" r="1.6" fill="#c8102e"/>
<circle cx="462.25" cy="759.86" r="1.6" fill="#c8102e"/>
<circle cx="462.39" cy="744.51" r="1.6" fill="#c8102e"/>
<circle cx="463.64" cy="733.69" r="1.6" fill="#c8102e"/>
<circle cx="456.20" cy="793.45" r="1.6" fill="#c8102e"/>
<circle cx="458.20" cy="793.45" r="1.6" fill="#c8102e"/>
<circle cx="460.20" cy="793.45" r="1.6" fill="#c8102e"/>
<circle cx="462.20" cy="793.45" r="1.6" fill="#c8102e"/>
<circle cx="464.20" cy="793.45" r="1.6" fill="#c8102e"/>
<circle cx="466.20" cy="793.45" r="1.6" fill="#c8102e"/>
<circle cx="468.20" cy="793.45" r="1.6" fill="#c8102e"/>
<circle cx="470.20" cy="793.45" r="1.6" fill="#c8102e"/>
<line x1="490.70" y1="801.36" x2="490.70" y2="742.09" stroke="#1f5a96" stroke-width="1.0" />
<line x1="486.70" y1="801.36" x2="494.70" y2="801.36" stroke="#1f5a96" stroke-width="1.0" />
<line x1="486.70" y1="742.09" x2="494.70" y2="742.09" stroke="#1f5a96" stroke-width="1.0" />
<rect x="482.70" y="769.55" width="16.00" height="19.06" fill="#8badc9" stroke="#1f5a96" stroke-width="1.0"/>
<line x1="482.70" y1="780.37" x2="498.70" y2="780.37" stroke="#1f5a96" stroke-width="1.0" />
<circle cx="490.70" cy="801.36" r="1.6" fill="#1f5a96"/>
<circle cx="487.70" cy="793.29" r="1.6" fill="#1f5a96"/>
<circle cx="491.70" cy="793.29" r="1.6" fill="#1f5a96"/>
<circle cx="488.70" cy="787.31" r="1.6" fill="#1f5a96"/>
<circle cx="492.70" cy="786.50" r="1.6" fill="#1f5a96"/>
<circle cx="495.70" cy="785.70" r="1.6" fill="#1f5a96"/>
<circle cx="485.70" cy="783.27" r="1.6" fill="#1f5a96"/>
<circle cx="489.70" cy="782.47" r="1.6" fill="#1f5a96"/>
<circle cx="493.70" cy="781.66" r="1.6" fill="#1f5a96"/>
<circle cx="483.70" cy="780.85" r="1.6" fill="#1f5a96"/>
<circle cx="487.70" cy="780.04" r="1.6" fill="#1f5a96"/>
<circle cx="491.70" cy="779.72" r="1.6" fill="#1f5a96"/>
<circle cx="496.70" cy="779.24" r="1.6" fill="#1f5a96"/>
<circle cx="498.20" cy="778.43" r="1.6" fill="#1f5a96"/>
<circle cx="490.70" cy="773.59" r="1.6" fill="#1f5a96"/>
<circle cx="490.70" cy="765.51" r="1.6" fill="#1f5a96"/>
<circle cx="490.70" cy="758.24" r="1.6" fill="#1f5a96"/>
<circle cx="488.70" cy="744.51" r="1.6" fill="#1f5a96"/>
<circle cx="491.20" cy="742.90" r="1.6" fill="#1f5a96"/>
<circle cx="493.20" cy="742.09" r="1.6" fill="#1f5a96"/>
<polyline points="462.50,723.80 462.50,713.80 490.70,713.80 490.70,733.00" fill="none" stroke="#111" stroke-width="0.95" />
<text transform="translate(476.60,710.40)" font-size="11" fill="#111" text-anchor="middle" font-weight="normal" >ns</text>
<text transform="translate(467.00,822.00) rotate(-45)" font-size="12.5" fill="#111" text-anchor="end" font-weight="normal"  textLength="55" lengthAdjust="spacingAndGlyphs">Anti-CD38</text>
<text transform="translate(492.80,821.20) rotate(-45)" font-size="12.5" fill="#111" text-anchor="end" font-weight="normal" >Other</text>
<text transform="translate(95.00,881.30)" font-size="14.2" fill="#111" text-anchor="middle" font-weight="normal"  textLength="84" lengthAdjust="spacingAndGlyphs">Control n=21</text>
<text transform="translate(95.50,898.80)" font-size="14.2" fill="#111" text-anchor="middle" font-weight="normal"  textLength="95" lengthAdjust="spacingAndGlyphs">Myeloma n=26</text>
<circle cx="168.00" cy="879.50" r="1.7" fill="#c8102e"/>
<text transform="translate(175.00,882.70)" font-size="11.5" fill="#c8102e" text-anchor="start" font-weight="normal" >Anti-CD38</text>
<circle cx="168.00" cy="892.50" r="1.7" fill="#1f5a96"/>
<text transform="translate(175.00,895.90)" font-size="11.5" fill="#22609b" text-anchor="start" font-weight="normal" >Other treatments</text>
<line x1="66.80" y1="922.50" x2="66.80" y2="1016.25" stroke="#111" stroke-width="1.5" />
<line x1="66.05" y1="1015.50" x2="124.00" y2="1015.50" stroke="#111" stroke-width="1.5" />
<line x1="61.80" y1="1015.50" x2="66.80" y2="1015.50" stroke="#111" stroke-width="1.3" />
<line x1="63.20" y1="1006.86" x2="66.80" y2="1006.86" stroke="#111" stroke-width="1.0" />
<line x1="63.20" y1="1001.81" x2="66.80" y2="1001.81" stroke="#111" stroke-width="1.0" />
<line x1="63.20" y1="998.22" x2="66.80" y2="998.22" stroke="#111" stroke-width="1.0" />
<line x1="63.20" y1="995.44" x2="66.80" y2="995.44" stroke="#111" stroke-width="1.0" />
<line x1="63.20" y1="993.17" x2="66.80" y2="993.17" stroke="#111" stroke-width="1.0" />
<line x1="63.20" y1="991.25" x2="66.80" y2="991.25" stroke="#111" stroke-width="1.0" />
<line x1="63.20" y1="989.58" x2="66.80" y2="989.58" stroke="#111" stroke-width="1.0" />
<line x1="63.20" y1="988.11" x2="66.80" y2="988.11" stroke="#111" stroke-width="1.0" />
<line x1="61.80" y1="986.80" x2="66.80" y2="986.80" stroke="#111" stroke-width="1.3" />
<line x1="63.20" y1="978.16" x2="66.80" y2="978.16" stroke="#111" stroke-width="1.0" />
<line x1="63.20" y1="973.11" x2="66.80" y2="973.11" stroke="#111" stroke-width="1.0" />
<line x1="63.20" y1="969.52" x2="66.80" y2="969.52" stroke="#111" stroke-width="1.0" />
<line x1="63.20" y1="966.74" x2="66.80" y2="966.74" stroke="#111" stroke-width="1.0" />
<line x1="63.20" y1="964.47" x2="66.80" y2="964.47" stroke="#111" stroke-width="1.0" />
<line x1="63.20" y1="962.55" x2="66.80" y2="962.55" stroke="#111" stroke-width="1.0" />
<line x1="63.20" y1="960.88" x2="66.80" y2="960.88" stroke="#111" stroke-width="1.0" />
<line x1="63.20" y1="959.41" x2="66.80" y2="959.41" stroke="#111" stroke-width="1.0" />
<line x1="61.80" y1="958.10" x2="66.80" y2="958.10" stroke="#111" stroke-width="1.3" />
<line x1="63.20" y1="949.46" x2="66.80" y2="949.46" stroke="#111" stroke-width="1.0" />
<line x1="63.20" y1="944.41" x2="66.80" y2="944.41" stroke="#111" stroke-width="1.0" />
<line x1="63.20" y1="940.82" x2="66.80" y2="940.82" stroke="#111" stroke-width="1.0" />
<line x1="63.20" y1="938.04" x2="66.80" y2="938.04" stroke="#111" stroke-width="1.0" />
<line x1="63.20" y1="935.77" x2="66.80" y2="935.77" stroke="#111" stroke-width="1.0" />
<line x1="63.20" y1="933.85" x2="66.80" y2="933.85" stroke="#111" stroke-width="1.0" />
<line x1="63.20" y1="932.18" x2="66.80" y2="932.18" stroke="#111" stroke-width="1.0" />
<line x1="63.20" y1="930.71" x2="66.80" y2="930.71" stroke="#111" stroke-width="1.0" />
<line x1="61.80" y1="929.40" x2="66.80" y2="929.40" stroke="#111" stroke-width="1.3" />
<line x1="83.00" y1="1015.50" x2="83.00" y2="1021.00" stroke="#111" stroke-width="1.2" />
<line x1="107.50" y1="1015.50" x2="107.50" y2="1021.00" stroke="#111" stroke-width="1.2" />
<text transform="translate(58.30,1019.80)" font-size="12" fill="#111" text-anchor="end" font-weight="normal" >1</text>
<text transform="translate(58.30,991.10)" font-size="12" fill="#111" text-anchor="end" font-weight="normal" >10</text>
<text transform="translate(58.30,962.40)" font-size="12" fill="#111" text-anchor="end" font-weight="normal" >100</text>
<text transform="translate(58.30,933.70)" font-size="12" fill="#111" text-anchor="end" font-weight="normal" >1000</text>
<text transform="translate(26.2,968.6) rotate(-90)" font-size="14" fill="#111" text-anchor="middle" textLength="88.3" lengthAdjust="spacingAndGlyphs">SFU/10<tspan font-size="9.5" dy="-4.8">6</tspan><tspan dy="4.8"> CD3 (</tspan><tspan font-weight="bold" stroke="#111" stroke-width="0.3">S1</tspan>)</text>
<line x1="83.00" y1="986.80" x2="83.00" y2="932.50" stroke="#3bb54a" stroke-width="1.0" />
<line x1="79.00" y1="986.80" x2="87.00" y2="986.80" stroke="#3bb54a" stroke-width="1.0" />
<line x1="79.00" y1="932.50" x2="87.00" y2="932.50" stroke="#3bb54a" stroke-width="1.0" />
<rect x="75.60" y="950.77" width="14.80" height="15.97" fill="#a4dbaa" stroke="#3bb54a" stroke-width="1.0"/>
<line x1="75.60" y1="958.10" x2="90.40" y2="958.10" stroke="#3bb54a" stroke-width="1.0" />
<circle cx="83.00" cy="932.50" r="1.6" fill="#3bb54a"/>
<circle cx="83.00" cy="943.22" r="1.6" fill="#3bb54a"/>
<circle cx="83.00" cy="986.80" r="1.6" fill="#3bb54a"/>
<circle cx="88.42" cy="960.35" r="1.6" fill="#3bb54a"/>
<circle cx="82.91" cy="959.02" r="1.6" fill="#3bb54a"/>
<circle cx="85.73" cy="967.03" r="1.6" fill="#3bb54a"/>
<circle cx="84.20" cy="958.87" r="1.6" fill="#3bb54a"/>
<circle cx="84.35" cy="968.04" r="1.6" fill="#3bb54a"/>
<circle cx="79.37" cy="963.96" r="1.6" fill="#3bb54a"/>
<circle cx="87.70" cy="963.99" r="1.6" fill="#3bb54a"/>
<circle cx="84.07" cy="964.97" r="1.6" fill="#3bb54a"/>
<circle cx="78.64" cy="970.85" r="1.6" fill="#3bb54a"/>
<circle cx="86.45" cy="953.49" r="1.6" fill="#3bb54a"/>
<circle cx="81.62" cy="955.78" r="1.6" fill="#3bb54a"/>
<circle cx="84.93" cy="950.53" r="1.6" fill="#3bb54a"/>
<circle cx="88.04" cy="962.52" r="1.6" fill="#3bb54a"/>
<circle cx="88.38" cy="949.00" r="1.6" fill="#3bb54a"/>
<circle cx="84.00" cy="950.91" r="1.6" fill="#3bb54a"/>
<circle cx="82.90" cy="963.29" r="1.6" fill="#3bb54a"/>
<circle cx="80.22" cy="951.08" r="1.6" fill="#3bb54a"/>
<circle cx="79.29" cy="970.76" r="1.6" fill="#3bb54a"/>
<circle cx="86.36" cy="953.57" r="1.6" fill="#3bb54a"/>
<line x1="107.70" y1="1015.50" x2="107.70" y2="941.79" stroke="#f7941d" stroke-width="1.0" />
<line x1="103.70" y1="1015.50" x2="111.70" y2="1015.50" stroke="#f7941d" stroke-width="1.0" />
<line x1="103.70" y1="941.79" x2="111.70" y2="941.79" stroke="#f7941d" stroke-width="1.0" />
<rect x="99.95" y="964.47" width="15.50" height="51.03" fill="#fcd3a2" stroke="#f7941d" stroke-width="1.0"/>
<line x1="99.95" y1="995.44" x2="115.45" y2="995.44" stroke="#f7941d" stroke-width="1.0" />
<circle cx="100.90" cy="1015.50" r="1.75" fill="#c8102e"/>
<circle cx="102.60" cy="1015.50" r="1.75" fill="#c8102e"/>
<circle cx="104.30" cy="1015.50" r="1.75" fill="#c8102e"/>
<circle cx="106.00" cy="1015.50" r="1.75" fill="#c8102e"/>
<circle cx="107.70" cy="1015.50" r="1.75" fill="#c8102e"/>
<circle cx="109.40" cy="1015.50" r="1.75" fill="#c8102e"/>
<circle cx="111.10" cy="1015.50" r="1.75" fill="#c8102e"/>
<circle cx="112.80" cy="1015.50" r="1.75" fill="#c8102e"/>
<circle cx="114.50" cy="1015.50" r="1.75" fill="#c8102e"/>
<circle cx="107.70" cy="946.24" r="1.75" fill="#c8102e"/>
<circle cx="107.70" cy="953.73" r="1.75" fill="#c8102e"/>
<circle cx="106.10" cy="958.23" r="1.75" fill="#c8102e"/>
<circle cx="109.30" cy="958.23" r="1.75" fill="#c8102e"/>
<circle cx="107.70" cy="962.55" r="1.75" fill="#c8102e"/>
<circle cx="107.70" cy="968.05" r="1.75" fill="#c8102e"/>
<circle cx="107.20" cy="981.75" r="1.75" fill="#c8102e"/>
<circle cx="109.50" cy="982.61" r="1.75" fill="#c8102e"/>
<circle cx="105.70" cy="987.44" r="1.75" fill="#c8102e"/>
<circle cx="108.70" cy="987.44" r="1.75" fill="#c8102e"/>
<circle cx="109.70" cy="990.55" r="1.75" fill="#c8102e"/>
<circle cx="108.50" cy="995.44" r="1.75" fill="#c8102e"/>
<circle cx="107.70" cy="998.54" r="1.75" fill="#c8102e"/>
<circle cx="107.70" cy="1002.23" r="1.75" fill="#c8102e"/>
<circle cx="107.70" cy="941.79" r="2.1" fill="#1f5a96"/>
<circle cx="106.60" cy="994.95" r="1.6" fill="#1f5a96"/>
<polyline points="83.00,923.80 83.00,916.30 107.50,916.30 107.50,932.50" fill="none" stroke="#111" stroke-width="0.95" />
<text transform="translate(95.55,917.21)" font-size="12.2" fill="#111" text-anchor="middle" font-weight="bold" letter-spacing="0.55">***</text>
<text transform="translate(86.00,1031.00) rotate(-45)" font-size="12.5" fill="#111" text-anchor="end" font-weight="normal"  textLength="41.5" lengthAdjust="spacingAndGlyphs">Control</text>
<text transform="translate(110.30,1029.00) rotate(-45)" font-size="12.5" fill="#111" text-anchor="end" font-weight="normal"  textLength="48" lengthAdjust="spacingAndGlyphs">Myeloma</text>
<line x1="210.00" y1="922.50" x2="210.00" y2="1016.25" stroke="#111" stroke-width="1.5" />
<line x1="209.25" y1="1015.50" x2="267.50" y2="1015.50" stroke="#111" stroke-width="1.5" />
<line x1="205.00" y1="1015.50" x2="210.00" y2="1015.50" stroke="#111" stroke-width="1.3" />
<line x1="206.40" y1="1006.86" x2="210.00" y2="1006.86" stroke="#111" stroke-width="1.0" />
<line x1="206.40" y1="1001.81" x2="210.00" y2="1001.81" stroke="#111" stroke-width="1.0" />
<line x1="206.40" y1="998.22" x2="210.00" y2="998.22" stroke="#111" stroke-width="1.0" />
<line x1="206.40" y1="995.44" x2="210.00" y2="995.44" stroke="#111" stroke-width="1.0" />
<line x1="206.40" y1="993.17" x2="210.00" y2="993.17" stroke="#111" stroke-width="1.0" />
<line x1="206.40" y1="991.25" x2="210.00" y2="991.25" stroke="#111" stroke-width="1.0" />
<line x1="206.40" y1="989.58" x2="210.00" y2="989.58" stroke="#111" stroke-width="1.0" />
<line x1="206.40" y1="988.11" x2="210.00" y2="988.11" stroke="#111" stroke-width="1.0" />
<line x1="205.00" y1="986.80" x2="210.00" y2="986.80" stroke="#111" stroke-width="1.3" />
<line x1="206.40" y1="978.16" x2="210.00" y2="978.16" stroke="#111" stroke-width="1.0" />
<line x1="206.40" y1="973.11" x2="210.00" y2="973.11" stroke="#111" stroke-width="1.0" />
<line x1="206.40" y1="969.52" x2="210.00" y2="969.52" stroke="#111" stroke-width="1.0" />
<line x1="206.40" y1="966.74" x2="210.00" y2="966.74" stroke="#111" stroke-width="1.0" />
<line x1="206.40" y1="964.47" x2="210.00" y2="964.47" stroke="#111" stroke-width="1.0" />
<line x1="206.40" y1="962.55" x2="210.00" y2="962.55" stroke="#111" stroke-width="1.0" />
<line x1="206.40" y1="960.88" x2="210.00" y2="960.88" stroke="#111" stroke-width="1.0" />
<line x1="206.40" y1="959.41" x2="210.00" y2="959.41" stroke="#111" stroke-width="1.0" />
<line x1="205.00" y1="958.10" x2="210.00" y2="958.10" stroke="#111" stroke-width="1.3" />
<line x1="206.40" y1="949.46" x2="210.00" y2="949.46" stroke="#111" stroke-width="1.0" />
<line x1="206.40" y1="944.41" x2="210.00" y2="944.41" stroke="#111" stroke-width="1.0" />
<line x1="206.40" y1="940.82" x2="210.00" y2="940.82" stroke="#111" stroke-width="1.0" />
<line x1="206.40" y1="938.04" x2="210.00" y2="938.04" stroke="#111" stroke-width="1.0" />
<line x1="206.40" y1="935.77" x2="210.00" y2="935.77" stroke="#111" stroke-width="1.0" />
<line x1="206.40" y1="933.85" x2="210.00" y2="933.85" stroke="#111" stroke-width="1.0" />
<line x1="206.40" y1="932.18" x2="210.00" y2="932.18" stroke="#111" stroke-width="1.0" />
<line x1="206.40" y1="930.71" x2="210.00" y2="930.71" stroke="#111" stroke-width="1.0" />
<line x1="205.00" y1="929.40" x2="210.00" y2="929.40" stroke="#111" stroke-width="1.3" />
<line x1="225.50" y1="1015.50" x2="225.50" y2="1021.00" stroke="#111" stroke-width="1.2" />
<line x1="250.50" y1="1015.50" x2="250.50" y2="1021.00" stroke="#111" stroke-width="1.2" />
<text transform="translate(201.50,1019.80)" font-size="12" fill="#111" text-anchor="end" font-weight="normal" >1</text>
<text transform="translate(201.50,991.10)" font-size="12" fill="#111" text-anchor="end" font-weight="normal" >10</text>
<text transform="translate(201.50,962.40)" font-size="12" fill="#111" text-anchor="end" font-weight="normal" >100</text>
<text transform="translate(201.50,933.70)" font-size="12" fill="#111" text-anchor="end" font-weight="normal" >1000</text>
<text transform="translate(169.5,968.6) rotate(-90)" font-size="14" fill="#111" text-anchor="middle" textLength="88.3" lengthAdjust="spacingAndGlyphs">SFU/10<tspan font-size="9.5" dy="-4.8">6</tspan><tspan dy="4.8"> CD3 (</tspan><tspan font-weight="bold" stroke="#111" stroke-width="0.3">S2</tspan>)</text>
<line x1="225.50" y1="980.19" x2="225.50" y2="930.04" stroke="#3bb54a" stroke-width="1.0" />
<line x1="221.50" y1="980.19" x2="229.50" y2="980.19" stroke="#3bb54a" stroke-width="1.0" />
<line x1="221.50" y1="930.04" x2="229.50" y2="930.04" stroke="#3bb54a" stroke-width="1.0" />
<rect x="217.60" y="946.43" width="15.80" height="9.93" fill="#a4dbaa" stroke="#3bb54a" stroke-width="1.0"/>
<line x1="217.60" y1="951.49" x2="233.40" y2="951.49" stroke="#3bb54a" stroke-width="1.0" />
<circle cx="225.50" cy="930.04" r="1.6" fill="#3bb54a"/>
<circle cx="225.50" cy="980.19" r="1.6" fill="#3bb54a"/>
<circle cx="225.50" cy="973.11" r="1.6" fill="#3bb54a"/>
<circle cx="225.50" cy="965.55" r="1.6" fill="#3bb54a"/>
<circle cx="225.50" cy="960.88" r="1.6" fill="#3bb54a"/>
<circle cx="223.50" cy="958.10" r="1.6" fill="#3bb54a"/>
<circle cx="227.50" cy="957.49" r="1.6" fill="#3bb54a"/>
<circle cx="225.50" cy="940.82" r="1.6" fill="#3bb54a"/>
<circle cx="229.50" cy="939.92" r="1.6" fill="#3bb54a"/>
<circle cx="221.50" cy="943.22" r="1.6" fill="#3bb54a"/>
<circle cx="225.31" cy="947.06" r="1.6" fill="#3bb54a"/>
<circle cx="220.57" cy="953.70" r="1.6" fill="#3bb54a"/>
<circle cx="223.19" cy="951.85" r="1.6" fill="#3bb54a"/>
<circle cx="221.88" cy="955.87" r="1.6" fill="#3bb54a"/>
<circle cx="223.72" cy="946.34" r="1.6" fill="#3bb54a"/>
<circle cx="230.82" cy="948.10" r="1.6" fill="#3bb54a"/>
<circle cx="225.27" cy="953.77" r="1.6" fill="#3bb54a"/>
<circle cx="230.55" cy="950.63" r="1.6" fill="#3bb54a"/>
<circle cx="228.01" cy="956.34" r="1.6" fill="#3bb54a"/>
<circle cx="222.33" cy="947.04" r="1.6" fill="#3bb54a"/>
<circle cx="228.75" cy="946.55" r="1.6" fill="#3bb54a"/>
<circle cx="226.61" cy="951.77" r="1.6" fill="#3bb54a"/>
<line x1="250.50" y1="1015.50" x2="250.50" y2="931.87" stroke="#f7941d" stroke-width="1.0" />
<line x1="246.50" y1="1015.50" x2="254.50" y2="1015.50" stroke="#f7941d" stroke-width="1.0" />
<line x1="246.50" y1="931.87" x2="254.50" y2="931.87" stroke="#f7941d" stroke-width="1.0" />
<rect x="242.50" y="960.57" width="16.00" height="41.23" fill="#fcd3a2" stroke="#f7941d" stroke-width="1.0"/>
<line x1="242.50" y1="984.02" x2="258.50" y2="984.02" stroke="#f7941d" stroke-width="1.0" />
<circle cx="243.80" cy="1015.50" r="1.8" fill="#c8102e"/>
<circle cx="247.15" cy="1015.50" r="1.8" fill="#c8102e"/>
<circle cx="250.50" cy="1015.50" r="1.8" fill="#c8102e"/>
<circle cx="253.85" cy="1015.50" r="1.8" fill="#c8102e"/>
<circle cx="257.20" cy="1015.50" r="1.8" fill="#c8102e"/>
<circle cx="250.50" cy="931.87" r="1.8" fill="#c8102e"/>
<circle cx="250.50" cy="944.24" r="1.8" fill="#c8102e"/>
<circle cx="246.90" cy="952.48" r="1.8" fill="#c8102e"/>
<circle cx="250.50" cy="954.55" r="1.8" fill="#c8102e"/>
<circle cx="254.10" cy="952.48" r="1.8" fill="#c8102e"/>
<circle cx="248.70" cy="961.69" r="1.8" fill="#c8102e"/>
<circle cx="252.80" cy="961.69" r="1.8" fill="#c8102e"/>
<circle cx="246.70" cy="965.11" r="1.8" fill="#c8102e"/>
<circle cx="253.70" cy="965.11" r="1.8" fill="#c8102e"/>
<circle cx="250.50" cy="967.51" r="1.8" fill="#c8102e"/>
<circle cx="250.50" cy="978.80" r="1.8" fill="#c8102e"/>
<circle cx="248.70" cy="982.61" r="1.8" fill="#c8102e"/>
<circle cx="252.50" cy="982.61" r="1.8" fill="#c8102e"/>
<circle cx="245.90" cy="987.31" r="1.8" fill="#c8102e"/>
<circle cx="249.00" cy="987.31" r="1.8" fill="#c8102e"/>
<circle cx="252.10" cy="987.31" r="1.8" fill="#c8102e"/>
<circle cx="255.10" cy="987.31" r="1.8" fill="#c8102e"/>
<circle cx="245.90" cy="995.69" r="1.8" fill="#c8102e"/>
<circle cx="249.00" cy="995.69" r="1.8" fill="#c8102e"/>
<circle cx="252.10" cy="995.69" r="1.8" fill="#c8102e"/>
<circle cx="255.10" cy="995.69" r="1.8" fill="#c8102e"/>
<circle cx="252.10" cy="1001.81" r="1.8" fill="#c8102e"/>
<circle cx="250.50" cy="939.49" r="2.1" fill="#1f5a96"/>
<circle cx="248.70" cy="1001.81" r="2.1" fill="#1f5a96"/>
<polyline points="225.50,921.30 225.50,913.30 250.50,913.30 250.50,922.50" fill="none" stroke="#111" stroke-width="0.95" />
<text transform="translate(238.30,914.71)" font-size="12.2" fill="#111" text-anchor="middle" font-weight="bold" letter-spacing="0.55">****</text>
<text transform="translate(228.50,1031.00) rotate(-45)" font-size="12.5" fill="#111" text-anchor="end" font-weight="normal"  textLength="41.5" lengthAdjust="spacingAndGlyphs">Control</text>
<text transform="translate(253.30,1029.00) rotate(-45)" font-size="12.5" fill="#111" text-anchor="end" font-weight="normal"  textLength="48" lengthAdjust="spacingAndGlyphs">Myeloma</text>
<rect x="0.7" y="0.7" width="518.6" height="1071.6" fill="none" stroke="#000" stroke-width="1.4"/>
</svg></body></html>
